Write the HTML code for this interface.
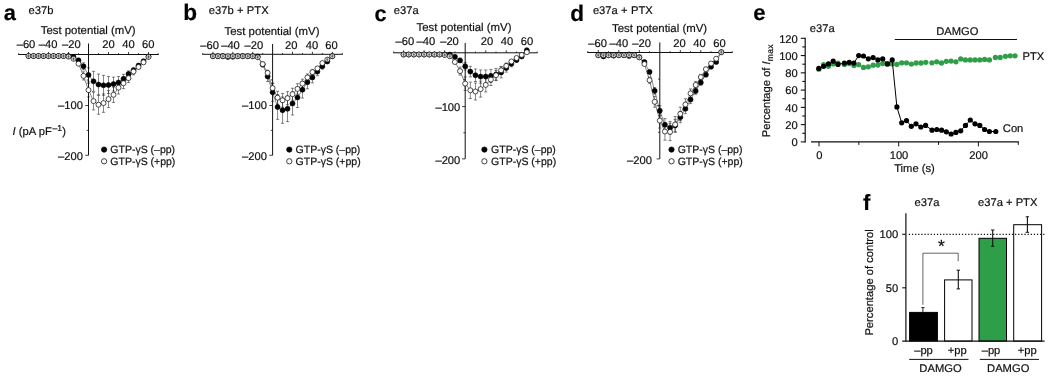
<!DOCTYPE html>
<html lang="en"><head><meta charset="utf-8"><title>Figure</title>
<style>html,body{margin:0;padding:0;background:#fff}body{width:1050px;height:376px;overflow:hidden}svg{display:block;font-family:"Liberation Sans",sans-serif;fill:#111}text{stroke:#111;stroke-width:.2px;text-rendering:geometricPrecision}</style></head><body>
<svg width="1050" height="376" viewBox="0 0 1050 376">
<rect x="0" y="0" width="1050" height="376" fill="#fff"/>
<g class="panel-a">
<text x="3.70" y="20.20" font-size="21.8" font-weight="bold" fill="#000">a</text>
<text x="28.60" y="14.30" font-size="11.2" word-spacing="0.2">e37b</text>
<text x="40.70" y="33.90" font-size="11.4">Test potential (mV)</text>
<text x="26.00" y="48.00" font-size="11.2" text-anchor="middle">–60</text>
<text x="48.20" y="48.00" font-size="11.2" text-anchor="middle">–40</text>
<text x="71.30" y="48.00" font-size="11.2" text-anchor="middle">–20</text>
<text x="108.50" y="48.00" font-size="11.2" text-anchor="middle">20</text>
<text x="128.60" y="48.00" font-size="11.2" text-anchor="middle">40</text>
<text x="148.30" y="48.00" font-size="11.2" text-anchor="middle">60</text>
<text x="82.90" y="108.90" font-size="11.2" text-anchor="end">–100</text>
<text x="82.90" y="160.20" font-size="11.2" text-anchor="end">–200</text>
<line x1="18.30" y1="54.50" x2="158.60" y2="54.50" stroke="#111" stroke-width="1.0"/>
<line x1="88.50" y1="43.50" x2="88.50" y2="155.30" stroke="#111" stroke-width="1.0"/>
<line x1="18.70" y1="53.20" x2="18.70" y2="54.50" stroke="#111" stroke-width="0.8"/>
<line x1="28.50" y1="52.00" x2="28.50" y2="54.50" stroke="#111" stroke-width="0.8"/>
<line x1="38.50" y1="53.20" x2="38.50" y2="54.50" stroke="#111" stroke-width="0.8"/>
<line x1="48.50" y1="52.00" x2="48.50" y2="54.50" stroke="#111" stroke-width="0.8"/>
<line x1="58.50" y1="53.20" x2="58.50" y2="54.50" stroke="#111" stroke-width="0.8"/>
<line x1="68.50" y1="52.00" x2="68.50" y2="54.50" stroke="#111" stroke-width="0.8"/>
<line x1="78.50" y1="53.20" x2="78.50" y2="54.50" stroke="#111" stroke-width="0.8"/>
<line x1="98.50" y1="53.20" x2="98.50" y2="54.50" stroke="#111" stroke-width="0.8"/>
<line x1="108.50" y1="52.00" x2="108.50" y2="54.50" stroke="#111" stroke-width="0.8"/>
<line x1="118.50" y1="53.20" x2="118.50" y2="54.50" stroke="#111" stroke-width="0.8"/>
<line x1="128.50" y1="52.00" x2="128.50" y2="54.50" stroke="#111" stroke-width="0.8"/>
<line x1="138.50" y1="53.20" x2="138.50" y2="54.50" stroke="#111" stroke-width="0.8"/>
<line x1="148.50" y1="52.00" x2="148.50" y2="54.50" stroke="#111" stroke-width="0.8"/>
<line x1="158.20" y1="53.20" x2="158.20" y2="54.50" stroke="#111" stroke-width="0.8"/>
<line x1="86.70" y1="80.00" x2="88.50" y2="80.00" stroke="#111" stroke-width="0.8"/>
<line x1="85.30" y1="105.50" x2="88.50" y2="105.50" stroke="#111" stroke-width="0.8"/>
<line x1="86.70" y1="130.40" x2="88.50" y2="130.40" stroke="#111" stroke-width="0.8"/>
<line x1="85.30" y1="155.30" x2="88.50" y2="155.30" stroke="#111" stroke-width="0.8"/>
<polyline fill="none" stroke="#111" stroke-width="0.5" points="28.5,56.0 33.5,56.0 38.5,56.0 43.5,56.0 48.5,56.0 53.5,56.0 58.5,56.0 63.5,56.0 68.5,56.0 73.5,57.0 78.5,60.3 83.5,66.3 88.5,74.9 93.5,81.3 98.5,84.5 103.5,85.3 108.5,85.0 113.5,84.1 118.5,82.5 123.5,78.8 128.5,73.9 133.5,70.2 138.5,65.6 143.5,61.2 148.5,56.5"/>
<line x1="28.50" y1="55.20" x2="28.50" y2="56.80" stroke="#111" stroke-width="0.5"/>
<line x1="26.90" y1="55.20" x2="30.10" y2="55.20" stroke="#111" stroke-width="0.5"/>
<line x1="26.90" y1="56.80" x2="30.10" y2="56.80" stroke="#111" stroke-width="0.5"/>
<line x1="33.50" y1="55.20" x2="33.50" y2="56.80" stroke="#111" stroke-width="0.5"/>
<line x1="31.90" y1="55.20" x2="35.10" y2="55.20" stroke="#111" stroke-width="0.5"/>
<line x1="31.90" y1="56.80" x2="35.10" y2="56.80" stroke="#111" stroke-width="0.5"/>
<line x1="38.50" y1="55.20" x2="38.50" y2="56.80" stroke="#111" stroke-width="0.5"/>
<line x1="36.90" y1="55.20" x2="40.10" y2="55.20" stroke="#111" stroke-width="0.5"/>
<line x1="36.90" y1="56.80" x2="40.10" y2="56.80" stroke="#111" stroke-width="0.5"/>
<line x1="43.50" y1="55.20" x2="43.50" y2="56.80" stroke="#111" stroke-width="0.5"/>
<line x1="41.90" y1="55.20" x2="45.10" y2="55.20" stroke="#111" stroke-width="0.5"/>
<line x1="41.90" y1="56.80" x2="45.10" y2="56.80" stroke="#111" stroke-width="0.5"/>
<line x1="48.50" y1="55.20" x2="48.50" y2="56.80" stroke="#111" stroke-width="0.5"/>
<line x1="46.90" y1="55.20" x2="50.10" y2="55.20" stroke="#111" stroke-width="0.5"/>
<line x1="46.90" y1="56.80" x2="50.10" y2="56.80" stroke="#111" stroke-width="0.5"/>
<line x1="53.50" y1="55.20" x2="53.50" y2="56.80" stroke="#111" stroke-width="0.5"/>
<line x1="51.90" y1="55.20" x2="55.10" y2="55.20" stroke="#111" stroke-width="0.5"/>
<line x1="51.90" y1="56.80" x2="55.10" y2="56.80" stroke="#111" stroke-width="0.5"/>
<line x1="58.50" y1="55.20" x2="58.50" y2="56.80" stroke="#111" stroke-width="0.5"/>
<line x1="56.90" y1="55.20" x2="60.10" y2="55.20" stroke="#111" stroke-width="0.5"/>
<line x1="56.90" y1="56.80" x2="60.10" y2="56.80" stroke="#111" stroke-width="0.5"/>
<line x1="63.50" y1="55.20" x2="63.50" y2="56.80" stroke="#111" stroke-width="0.5"/>
<line x1="61.90" y1="55.20" x2="65.10" y2="55.20" stroke="#111" stroke-width="0.5"/>
<line x1="61.90" y1="56.80" x2="65.10" y2="56.80" stroke="#111" stroke-width="0.5"/>
<line x1="68.50" y1="55.20" x2="68.50" y2="56.80" stroke="#111" stroke-width="0.5"/>
<line x1="66.90" y1="55.20" x2="70.10" y2="55.20" stroke="#111" stroke-width="0.5"/>
<line x1="66.90" y1="56.80" x2="70.10" y2="56.80" stroke="#111" stroke-width="0.5"/>
<line x1="73.50" y1="56.00" x2="73.50" y2="58.00" stroke="#111" stroke-width="0.5"/>
<line x1="71.90" y1="56.00" x2="75.10" y2="56.00" stroke="#111" stroke-width="0.5"/>
<line x1="71.90" y1="58.00" x2="75.10" y2="58.00" stroke="#111" stroke-width="0.5"/>
<line x1="78.50" y1="58.80" x2="78.50" y2="61.80" stroke="#111" stroke-width="0.5"/>
<line x1="76.90" y1="58.80" x2="80.10" y2="58.80" stroke="#111" stroke-width="0.5"/>
<line x1="76.90" y1="61.80" x2="80.10" y2="61.80" stroke="#111" stroke-width="0.5"/>
<line x1="83.50" y1="62.80" x2="83.50" y2="69.80" stroke="#111" stroke-width="0.5"/>
<line x1="81.90" y1="62.80" x2="85.10" y2="62.80" stroke="#111" stroke-width="0.5"/>
<line x1="81.90" y1="69.80" x2="85.10" y2="69.80" stroke="#111" stroke-width="0.5"/>
<line x1="88.50" y1="67.90" x2="88.50" y2="81.90" stroke="#111" stroke-width="0.5"/>
<line x1="86.90" y1="67.90" x2="90.10" y2="67.90" stroke="#111" stroke-width="0.5"/>
<line x1="86.90" y1="81.90" x2="90.10" y2="81.90" stroke="#111" stroke-width="0.5"/>
<line x1="93.50" y1="71.30" x2="93.50" y2="91.30" stroke="#111" stroke-width="0.5"/>
<line x1="91.90" y1="71.30" x2="95.10" y2="71.30" stroke="#111" stroke-width="0.5"/>
<line x1="91.90" y1="91.30" x2="95.10" y2="91.30" stroke="#111" stroke-width="0.5"/>
<line x1="98.50" y1="74.00" x2="98.50" y2="95.00" stroke="#111" stroke-width="0.5"/>
<line x1="96.90" y1="74.00" x2="100.10" y2="74.00" stroke="#111" stroke-width="0.5"/>
<line x1="96.90" y1="95.00" x2="100.10" y2="95.00" stroke="#111" stroke-width="0.5"/>
<line x1="103.50" y1="75.30" x2="103.50" y2="95.30" stroke="#111" stroke-width="0.5"/>
<line x1="101.90" y1="75.30" x2="105.10" y2="75.30" stroke="#111" stroke-width="0.5"/>
<line x1="101.90" y1="95.30" x2="105.10" y2="95.30" stroke="#111" stroke-width="0.5"/>
<line x1="108.50" y1="76.50" x2="108.50" y2="93.50" stroke="#111" stroke-width="0.5"/>
<line x1="106.90" y1="76.50" x2="110.10" y2="76.50" stroke="#111" stroke-width="0.5"/>
<line x1="106.90" y1="93.50" x2="110.10" y2="93.50" stroke="#111" stroke-width="0.5"/>
<line x1="113.50" y1="77.10" x2="113.50" y2="91.10" stroke="#111" stroke-width="0.5"/>
<line x1="111.90" y1="77.10" x2="115.10" y2="77.10" stroke="#111" stroke-width="0.5"/>
<line x1="111.90" y1="91.10" x2="115.10" y2="91.10" stroke="#111" stroke-width="0.5"/>
<line x1="118.50" y1="76.50" x2="118.50" y2="88.50" stroke="#111" stroke-width="0.5"/>
<line x1="116.90" y1="76.50" x2="120.10" y2="76.50" stroke="#111" stroke-width="0.5"/>
<line x1="116.90" y1="88.50" x2="120.10" y2="88.50" stroke="#111" stroke-width="0.5"/>
<line x1="123.50" y1="74.30" x2="123.50" y2="83.30" stroke="#111" stroke-width="0.5"/>
<line x1="121.90" y1="74.30" x2="125.10" y2="74.30" stroke="#111" stroke-width="0.5"/>
<line x1="121.90" y1="83.30" x2="125.10" y2="83.30" stroke="#111" stroke-width="0.5"/>
<line x1="128.50" y1="70.90" x2="128.50" y2="76.90" stroke="#111" stroke-width="0.5"/>
<line x1="126.90" y1="70.90" x2="130.10" y2="70.90" stroke="#111" stroke-width="0.5"/>
<line x1="126.90" y1="76.90" x2="130.10" y2="76.90" stroke="#111" stroke-width="0.5"/>
<line x1="133.50" y1="68.00" x2="133.50" y2="72.40" stroke="#111" stroke-width="0.5"/>
<line x1="131.90" y1="68.00" x2="135.10" y2="68.00" stroke="#111" stroke-width="0.5"/>
<line x1="131.90" y1="72.40" x2="135.10" y2="72.40" stroke="#111" stroke-width="0.5"/>
<line x1="138.50" y1="63.80" x2="138.50" y2="67.40" stroke="#111" stroke-width="0.5"/>
<line x1="136.90" y1="63.80" x2="140.10" y2="63.80" stroke="#111" stroke-width="0.5"/>
<line x1="136.90" y1="67.40" x2="140.10" y2="67.40" stroke="#111" stroke-width="0.5"/>
<line x1="143.50" y1="60.00" x2="143.50" y2="62.40" stroke="#111" stroke-width="0.5"/>
<line x1="141.90" y1="60.00" x2="145.10" y2="60.00" stroke="#111" stroke-width="0.5"/>
<line x1="141.90" y1="62.40" x2="145.10" y2="62.40" stroke="#111" stroke-width="0.5"/>
<line x1="148.50" y1="55.50" x2="148.50" y2="57.50" stroke="#111" stroke-width="0.5"/>
<line x1="146.90" y1="55.50" x2="150.10" y2="55.50" stroke="#111" stroke-width="0.5"/>
<line x1="146.90" y1="57.50" x2="150.10" y2="57.50" stroke="#111" stroke-width="0.5"/>
<circle cx="28.50" cy="56.00" r="2.5" fill="#000" stroke="#000" stroke-width="0.6"/>
<circle cx="33.50" cy="56.00" r="2.5" fill="#000" stroke="#000" stroke-width="0.6"/>
<circle cx="38.50" cy="56.00" r="2.5" fill="#000" stroke="#000" stroke-width="0.6"/>
<circle cx="43.50" cy="56.00" r="2.5" fill="#000" stroke="#000" stroke-width="0.6"/>
<circle cx="48.50" cy="56.00" r="2.5" fill="#000" stroke="#000" stroke-width="0.6"/>
<circle cx="53.50" cy="56.00" r="2.5" fill="#000" stroke="#000" stroke-width="0.6"/>
<circle cx="58.50" cy="56.00" r="2.5" fill="#000" stroke="#000" stroke-width="0.6"/>
<circle cx="63.50" cy="56.00" r="2.5" fill="#000" stroke="#000" stroke-width="0.6"/>
<circle cx="68.50" cy="56.00" r="2.5" fill="#000" stroke="#000" stroke-width="0.6"/>
<circle cx="73.50" cy="57.00" r="2.5" fill="#000" stroke="#000" stroke-width="0.6"/>
<circle cx="78.50" cy="60.30" r="2.5" fill="#000" stroke="#000" stroke-width="0.6"/>
<circle cx="83.50" cy="66.30" r="2.5" fill="#000" stroke="#000" stroke-width="0.6"/>
<circle cx="88.50" cy="74.90" r="2.5" fill="#000" stroke="#000" stroke-width="0.6"/>
<circle cx="93.50" cy="81.30" r="2.5" fill="#000" stroke="#000" stroke-width="0.6"/>
<circle cx="98.50" cy="84.50" r="2.5" fill="#000" stroke="#000" stroke-width="0.6"/>
<circle cx="103.50" cy="85.30" r="2.5" fill="#000" stroke="#000" stroke-width="0.6"/>
<circle cx="108.50" cy="85.00" r="2.5" fill="#000" stroke="#000" stroke-width="0.6"/>
<circle cx="113.50" cy="84.10" r="2.5" fill="#000" stroke="#000" stroke-width="0.6"/>
<circle cx="118.50" cy="82.50" r="2.5" fill="#000" stroke="#000" stroke-width="0.6"/>
<circle cx="123.50" cy="78.80" r="2.5" fill="#000" stroke="#000" stroke-width="0.6"/>
<circle cx="128.50" cy="73.90" r="2.5" fill="#000" stroke="#000" stroke-width="0.6"/>
<circle cx="133.50" cy="70.20" r="2.5" fill="#000" stroke="#000" stroke-width="0.6"/>
<circle cx="138.50" cy="65.60" r="2.5" fill="#000" stroke="#000" stroke-width="0.6"/>
<circle cx="143.50" cy="61.20" r="2.5" fill="#000" stroke="#000" stroke-width="0.6"/>
<circle cx="148.50" cy="56.50" r="2.5" fill="#000" stroke="#000" stroke-width="0.6"/>
<polyline fill="none" stroke="#111" stroke-width="0.5" points="28.5,56.0 33.5,56.0 38.5,56.0 43.5,56.0 48.5,56.0 53.5,56.0 58.5,56.0 63.5,56.0 68.5,56.6 73.5,58.8 78.5,63.7 83.5,75.9 88.5,90.1 93.5,101.1 98.5,104.7 103.5,103.1 108.5,99.1 113.5,94.8 118.5,87.7 123.5,83.2 128.5,78.1 133.5,71.6 138.5,67.0 143.5,62.3 148.5,56.9"/>
<line x1="83.50" y1="71.83" x2="83.50" y2="79.97" stroke="#111" stroke-width="0.5"/>
<line x1="81.90" y1="71.83" x2="85.10" y2="71.83" stroke="#111" stroke-width="0.5"/>
<line x1="81.90" y1="79.97" x2="85.10" y2="79.97" stroke="#111" stroke-width="0.5"/>
<line x1="88.50" y1="83.34" x2="88.50" y2="96.86" stroke="#111" stroke-width="0.5"/>
<line x1="86.90" y1="83.34" x2="90.10" y2="83.34" stroke="#111" stroke-width="0.5"/>
<line x1="86.90" y1="96.86" x2="90.10" y2="96.86" stroke="#111" stroke-width="0.5"/>
<line x1="93.50" y1="92.25" x2="93.50" y2="109.95" stroke="#111" stroke-width="0.5"/>
<line x1="91.90" y1="92.25" x2="95.10" y2="92.25" stroke="#111" stroke-width="0.5"/>
<line x1="91.90" y1="109.95" x2="95.10" y2="109.95" stroke="#111" stroke-width="0.5"/>
<line x1="98.50" y1="95.16" x2="98.50" y2="114.24" stroke="#111" stroke-width="0.5"/>
<line x1="96.90" y1="95.16" x2="100.10" y2="95.16" stroke="#111" stroke-width="0.5"/>
<line x1="96.90" y1="114.24" x2="100.10" y2="114.24" stroke="#111" stroke-width="0.5"/>
<line x1="103.50" y1="93.87" x2="103.50" y2="112.33" stroke="#111" stroke-width="0.5"/>
<line x1="101.90" y1="93.87" x2="105.10" y2="93.87" stroke="#111" stroke-width="0.5"/>
<line x1="101.90" y1="112.33" x2="105.10" y2="112.33" stroke="#111" stroke-width="0.5"/>
<line x1="108.50" y1="90.63" x2="108.50" y2="107.57" stroke="#111" stroke-width="0.5"/>
<line x1="106.90" y1="90.63" x2="110.10" y2="90.63" stroke="#111" stroke-width="0.5"/>
<line x1="106.90" y1="107.57" x2="110.10" y2="107.57" stroke="#111" stroke-width="0.5"/>
<line x1="113.50" y1="87.14" x2="113.50" y2="102.46" stroke="#111" stroke-width="0.5"/>
<line x1="111.90" y1="87.14" x2="115.10" y2="87.14" stroke="#111" stroke-width="0.5"/>
<line x1="111.90" y1="102.46" x2="115.10" y2="102.46" stroke="#111" stroke-width="0.5"/>
<line x1="118.50" y1="81.39" x2="118.50" y2="94.01" stroke="#111" stroke-width="0.5"/>
<line x1="116.90" y1="81.39" x2="120.10" y2="81.39" stroke="#111" stroke-width="0.5"/>
<line x1="116.90" y1="94.01" x2="120.10" y2="94.01" stroke="#111" stroke-width="0.5"/>
<line x1="123.50" y1="77.75" x2="123.50" y2="88.65" stroke="#111" stroke-width="0.5"/>
<line x1="121.90" y1="77.75" x2="125.10" y2="77.75" stroke="#111" stroke-width="0.5"/>
<line x1="121.90" y1="88.65" x2="125.10" y2="88.65" stroke="#111" stroke-width="0.5"/>
<line x1="128.50" y1="73.62" x2="128.50" y2="82.58" stroke="#111" stroke-width="0.5"/>
<line x1="126.90" y1="73.62" x2="130.10" y2="73.62" stroke="#111" stroke-width="0.5"/>
<line x1="126.90" y1="82.58" x2="130.10" y2="82.58" stroke="#111" stroke-width="0.5"/>
<line x1="133.50" y1="68.35" x2="133.50" y2="74.85" stroke="#111" stroke-width="0.5"/>
<line x1="131.90" y1="68.35" x2="135.10" y2="68.35" stroke="#111" stroke-width="0.5"/>
<line x1="131.90" y1="74.85" x2="135.10" y2="74.85" stroke="#111" stroke-width="0.5"/>
<circle cx="28.50" cy="56.00" r="2.5" fill="#fff" stroke="#111" stroke-width="0.75"/>
<circle cx="33.50" cy="56.00" r="2.5" fill="#fff" stroke="#111" stroke-width="0.75"/>
<circle cx="38.50" cy="56.00" r="2.5" fill="#fff" stroke="#111" stroke-width="0.75"/>
<circle cx="43.50" cy="56.00" r="2.5" fill="#fff" stroke="#111" stroke-width="0.75"/>
<circle cx="48.50" cy="56.00" r="2.5" fill="#fff" stroke="#111" stroke-width="0.75"/>
<circle cx="53.50" cy="56.00" r="2.5" fill="#fff" stroke="#111" stroke-width="0.75"/>
<circle cx="58.50" cy="56.00" r="2.5" fill="#fff" stroke="#111" stroke-width="0.75"/>
<circle cx="63.50" cy="56.00" r="2.5" fill="#fff" stroke="#111" stroke-width="0.75"/>
<circle cx="68.50" cy="56.60" r="2.5" fill="#fff" stroke="#111" stroke-width="0.75"/>
<circle cx="73.50" cy="58.80" r="2.5" fill="#fff" stroke="#111" stroke-width="0.75"/>
<circle cx="78.50" cy="63.70" r="2.5" fill="#fff" stroke="#111" stroke-width="0.75"/>
<circle cx="83.50" cy="75.90" r="2.5" fill="#fff" stroke="#111" stroke-width="0.75"/>
<circle cx="88.50" cy="90.10" r="2.5" fill="#fff" stroke="#111" stroke-width="0.75"/>
<circle cx="93.50" cy="101.10" r="2.5" fill="#fff" stroke="#111" stroke-width="0.75"/>
<circle cx="98.50" cy="104.70" r="2.5" fill="#fff" stroke="#111" stroke-width="0.75"/>
<circle cx="103.50" cy="103.10" r="2.5" fill="#fff" stroke="#111" stroke-width="0.75"/>
<circle cx="108.50" cy="99.10" r="2.5" fill="#fff" stroke="#111" stroke-width="0.75"/>
<circle cx="113.50" cy="94.80" r="2.5" fill="#fff" stroke="#111" stroke-width="0.75"/>
<circle cx="118.50" cy="87.70" r="2.5" fill="#fff" stroke="#111" stroke-width="0.75"/>
<circle cx="123.50" cy="83.20" r="2.5" fill="#fff" stroke="#111" stroke-width="0.75"/>
<circle cx="128.50" cy="78.10" r="2.5" fill="#fff" stroke="#111" stroke-width="0.75"/>
<circle cx="133.50" cy="71.60" r="2.5" fill="#fff" stroke="#111" stroke-width="0.75"/>
<circle cx="138.50" cy="67.00" r="2.5" fill="#fff" stroke="#111" stroke-width="0.75"/>
<circle cx="143.50" cy="62.30" r="2.5" fill="#fff" stroke="#111" stroke-width="0.75"/>
<circle cx="148.50" cy="56.90" r="2.5" fill="#fff" stroke="#111" stroke-width="0.75"/>
<line x1="28.50" y1="53.70" x2="28.50" y2="58.30" stroke="#111" stroke-width="0.45"/>
<line x1="27.20" y1="55.55" x2="29.80" y2="55.55" stroke="#111" stroke-width="0.45"/>
<line x1="27.20" y1="56.45" x2="29.80" y2="56.45" stroke="#111" stroke-width="0.45"/>
<line x1="33.50" y1="53.70" x2="33.50" y2="58.30" stroke="#111" stroke-width="0.45"/>
<line x1="32.20" y1="55.55" x2="34.80" y2="55.55" stroke="#111" stroke-width="0.45"/>
<line x1="32.20" y1="56.45" x2="34.80" y2="56.45" stroke="#111" stroke-width="0.45"/>
<line x1="38.50" y1="53.70" x2="38.50" y2="58.30" stroke="#111" stroke-width="0.45"/>
<line x1="37.20" y1="55.55" x2="39.80" y2="55.55" stroke="#111" stroke-width="0.45"/>
<line x1="37.20" y1="56.45" x2="39.80" y2="56.45" stroke="#111" stroke-width="0.45"/>
<line x1="43.50" y1="53.70" x2="43.50" y2="58.30" stroke="#111" stroke-width="0.45"/>
<line x1="42.20" y1="55.55" x2="44.80" y2="55.55" stroke="#111" stroke-width="0.45"/>
<line x1="42.20" y1="56.45" x2="44.80" y2="56.45" stroke="#111" stroke-width="0.45"/>
<line x1="48.50" y1="53.70" x2="48.50" y2="58.30" stroke="#111" stroke-width="0.45"/>
<line x1="47.20" y1="55.55" x2="49.80" y2="55.55" stroke="#111" stroke-width="0.45"/>
<line x1="47.20" y1="56.45" x2="49.80" y2="56.45" stroke="#111" stroke-width="0.45"/>
<line x1="53.50" y1="53.70" x2="53.50" y2="58.30" stroke="#111" stroke-width="0.45"/>
<line x1="52.20" y1="55.55" x2="54.80" y2="55.55" stroke="#111" stroke-width="0.45"/>
<line x1="52.20" y1="56.45" x2="54.80" y2="56.45" stroke="#111" stroke-width="0.45"/>
<line x1="58.50" y1="53.70" x2="58.50" y2="58.30" stroke="#111" stroke-width="0.45"/>
<line x1="57.20" y1="55.55" x2="59.80" y2="55.55" stroke="#111" stroke-width="0.45"/>
<line x1="57.20" y1="56.45" x2="59.80" y2="56.45" stroke="#111" stroke-width="0.45"/>
<line x1="63.50" y1="53.70" x2="63.50" y2="58.30" stroke="#111" stroke-width="0.45"/>
<line x1="62.20" y1="55.55" x2="64.80" y2="55.55" stroke="#111" stroke-width="0.45"/>
<line x1="62.20" y1="56.45" x2="64.80" y2="56.45" stroke="#111" stroke-width="0.45"/>
<line x1="68.50" y1="54.30" x2="68.50" y2="58.90" stroke="#111" stroke-width="0.45"/>
<line x1="67.20" y1="56.15" x2="69.80" y2="56.15" stroke="#111" stroke-width="0.45"/>
<line x1="67.20" y1="57.05" x2="69.80" y2="57.05" stroke="#111" stroke-width="0.45"/>
<line x1="73.50" y1="56.50" x2="73.50" y2="61.10" stroke="#111" stroke-width="0.45"/>
<line x1="72.20" y1="58.35" x2="74.80" y2="58.35" stroke="#111" stroke-width="0.45"/>
<line x1="72.20" y1="59.25" x2="74.80" y2="59.25" stroke="#111" stroke-width="0.45"/>
<line x1="148.50" y1="54.60" x2="148.50" y2="59.20" stroke="#111" stroke-width="0.45"/>
<line x1="147.20" y1="56.45" x2="149.80" y2="56.45" stroke="#111" stroke-width="0.45"/>
<line x1="147.20" y1="57.35" x2="149.80" y2="57.35" stroke="#111" stroke-width="0.45"/>
<circle cx="104.10" cy="149.60" r="2.7" fill="#000" stroke="#000" stroke-width="0.6"/>
<circle cx="104.10" cy="161.30" r="2.65" fill="#fff" stroke="#111" stroke-width="0.8"/>
<text x="110.30" y="152.90" font-size="10.5">GTP-γS (–pp)</text>
<text x="110.30" y="164.70" font-size="10.5">GTP-γS (+pp)</text>
<text x="12.6" y="135" font-size="11.2"><tspan font-style="italic">I</tspan> (pA pF<tspan dy="-3.8" dx="0.6" font-size="8.6">–1</tspan><tspan dy="3.8" dx="0.4">)</tspan></text>
</g>
<g class="panel-b">
<text x="183.30" y="20.20" font-size="22.6" font-weight="bold" fill="#000">b</text>
<text x="208.80" y="14.30" font-size="11.2" word-spacing="0.2">e37b + PTX</text>
<text x="224.50" y="34.80" font-size="11.4">Test potential (mV)</text>
<text x="209.60" y="49.30" font-size="11.2" text-anchor="middle">–60</text>
<text x="230.50" y="49.30" font-size="11.2" text-anchor="middle">–40</text>
<text x="253.90" y="49.30" font-size="11.2" text-anchor="middle">–20</text>
<text x="291.30" y="49.30" font-size="11.2" text-anchor="middle">20</text>
<text x="312.00" y="49.30" font-size="11.2" text-anchor="middle">40</text>
<text x="331.60" y="49.30" font-size="11.2" text-anchor="middle">60</text>
<text x="267.00" y="109.00" font-size="11.2" text-anchor="end">–100</text>
<text x="267.00" y="160.20" font-size="11.2" text-anchor="end">–200</text>
<line x1="202.30" y1="54.30" x2="342.70" y2="54.30" stroke="#111" stroke-width="1.0"/>
<line x1="272.60" y1="44.00" x2="272.60" y2="155.30" stroke="#111" stroke-width="1.0"/>
<line x1="202.70" y1="53.00" x2="202.70" y2="54.30" stroke="#111" stroke-width="0.8"/>
<line x1="212.90" y1="51.80" x2="212.90" y2="54.30" stroke="#111" stroke-width="0.8"/>
<line x1="222.85" y1="53.00" x2="222.85" y2="54.30" stroke="#111" stroke-width="0.8"/>
<line x1="232.80" y1="51.80" x2="232.80" y2="54.30" stroke="#111" stroke-width="0.8"/>
<line x1="242.75" y1="53.00" x2="242.75" y2="54.30" stroke="#111" stroke-width="0.8"/>
<line x1="252.70" y1="51.80" x2="252.70" y2="54.30" stroke="#111" stroke-width="0.8"/>
<line x1="262.65" y1="53.00" x2="262.65" y2="54.30" stroke="#111" stroke-width="0.8"/>
<line x1="282.55" y1="53.00" x2="282.55" y2="54.30" stroke="#111" stroke-width="0.8"/>
<line x1="292.50" y1="51.80" x2="292.50" y2="54.30" stroke="#111" stroke-width="0.8"/>
<line x1="302.45" y1="53.00" x2="302.45" y2="54.30" stroke="#111" stroke-width="0.8"/>
<line x1="312.40" y1="51.80" x2="312.40" y2="54.30" stroke="#111" stroke-width="0.8"/>
<line x1="322.35" y1="53.00" x2="322.35" y2="54.30" stroke="#111" stroke-width="0.8"/>
<line x1="332.30" y1="51.80" x2="332.30" y2="54.30" stroke="#111" stroke-width="0.8"/>
<line x1="342.30" y1="53.00" x2="342.30" y2="54.30" stroke="#111" stroke-width="0.8"/>
<line x1="270.80" y1="79.90" x2="272.60" y2="79.90" stroke="#111" stroke-width="0.8"/>
<line x1="269.40" y1="105.50" x2="272.60" y2="105.50" stroke="#111" stroke-width="0.8"/>
<line x1="270.80" y1="130.40" x2="272.60" y2="130.40" stroke="#111" stroke-width="0.8"/>
<line x1="269.40" y1="155.30" x2="272.60" y2="155.30" stroke="#111" stroke-width="0.8"/>
<polyline fill="none" stroke="#111" stroke-width="0.5" points="212.9,56.2 217.9,56.2 222.9,56.2 227.8,56.9 232.8,56.8 237.8,56.2 242.8,56.2 247.7,56.2 252.7,56.2 257.7,56.4 262.7,64.5 267.6,76.4 272.6,92.3 277.6,107.0 282.6,110.2 287.5,108.8 292.5,103.5 297.5,97.4 302.5,89.7 307.4,82.2 312.4,77.4 317.4,71.6 322.4,66.3 327.3,61.5 332.3,56.2"/>
<line x1="212.90" y1="55.40" x2="212.90" y2="57.00" stroke="#111" stroke-width="0.5"/>
<line x1="211.30" y1="55.40" x2="214.50" y2="55.40" stroke="#111" stroke-width="0.5"/>
<line x1="211.30" y1="57.00" x2="214.50" y2="57.00" stroke="#111" stroke-width="0.5"/>
<line x1="217.88" y1="55.40" x2="217.88" y2="57.00" stroke="#111" stroke-width="0.5"/>
<line x1="216.28" y1="55.40" x2="219.48" y2="55.40" stroke="#111" stroke-width="0.5"/>
<line x1="216.28" y1="57.00" x2="219.48" y2="57.00" stroke="#111" stroke-width="0.5"/>
<line x1="222.85" y1="55.40" x2="222.85" y2="57.00" stroke="#111" stroke-width="0.5"/>
<line x1="221.25" y1="55.40" x2="224.45" y2="55.40" stroke="#111" stroke-width="0.5"/>
<line x1="221.25" y1="57.00" x2="224.45" y2="57.00" stroke="#111" stroke-width="0.5"/>
<line x1="227.83" y1="56.10" x2="227.83" y2="57.70" stroke="#111" stroke-width="0.5"/>
<line x1="226.23" y1="56.10" x2="229.43" y2="56.10" stroke="#111" stroke-width="0.5"/>
<line x1="226.23" y1="57.70" x2="229.43" y2="57.70" stroke="#111" stroke-width="0.5"/>
<line x1="232.80" y1="56.00" x2="232.80" y2="57.60" stroke="#111" stroke-width="0.5"/>
<line x1="231.20" y1="56.00" x2="234.40" y2="56.00" stroke="#111" stroke-width="0.5"/>
<line x1="231.20" y1="57.60" x2="234.40" y2="57.60" stroke="#111" stroke-width="0.5"/>
<line x1="237.78" y1="55.40" x2="237.78" y2="57.00" stroke="#111" stroke-width="0.5"/>
<line x1="236.18" y1="55.40" x2="239.38" y2="55.40" stroke="#111" stroke-width="0.5"/>
<line x1="236.18" y1="57.00" x2="239.38" y2="57.00" stroke="#111" stroke-width="0.5"/>
<line x1="242.75" y1="55.40" x2="242.75" y2="57.00" stroke="#111" stroke-width="0.5"/>
<line x1="241.15" y1="55.40" x2="244.35" y2="55.40" stroke="#111" stroke-width="0.5"/>
<line x1="241.15" y1="57.00" x2="244.35" y2="57.00" stroke="#111" stroke-width="0.5"/>
<line x1="247.73" y1="55.40" x2="247.73" y2="57.00" stroke="#111" stroke-width="0.5"/>
<line x1="246.13" y1="55.40" x2="249.33" y2="55.40" stroke="#111" stroke-width="0.5"/>
<line x1="246.13" y1="57.00" x2="249.33" y2="57.00" stroke="#111" stroke-width="0.5"/>
<line x1="252.70" y1="55.40" x2="252.70" y2="57.00" stroke="#111" stroke-width="0.5"/>
<line x1="251.10" y1="55.40" x2="254.30" y2="55.40" stroke="#111" stroke-width="0.5"/>
<line x1="251.10" y1="57.00" x2="254.30" y2="57.00" stroke="#111" stroke-width="0.5"/>
<line x1="257.68" y1="55.60" x2="257.68" y2="57.20" stroke="#111" stroke-width="0.5"/>
<line x1="256.07" y1="55.60" x2="259.28" y2="55.60" stroke="#111" stroke-width="0.5"/>
<line x1="256.07" y1="57.20" x2="259.28" y2="57.20" stroke="#111" stroke-width="0.5"/>
<line x1="262.65" y1="62.10" x2="262.65" y2="66.90" stroke="#111" stroke-width="0.5"/>
<line x1="261.05" y1="62.10" x2="264.25" y2="62.10" stroke="#111" stroke-width="0.5"/>
<line x1="261.05" y1="66.90" x2="264.25" y2="66.90" stroke="#111" stroke-width="0.5"/>
<line x1="267.62" y1="71.21" x2="267.62" y2="81.59" stroke="#111" stroke-width="0.5"/>
<line x1="266.02" y1="71.21" x2="269.23" y2="71.21" stroke="#111" stroke-width="0.5"/>
<line x1="266.02" y1="81.59" x2="269.23" y2="81.59" stroke="#111" stroke-width="0.5"/>
<line x1="272.60" y1="83.37" x2="272.60" y2="101.23" stroke="#111" stroke-width="0.5"/>
<line x1="271.00" y1="83.37" x2="274.20" y2="83.37" stroke="#111" stroke-width="0.5"/>
<line x1="271.00" y1="101.23" x2="274.20" y2="101.23" stroke="#111" stroke-width="0.5"/>
<line x1="277.58" y1="94.62" x2="277.58" y2="119.38" stroke="#111" stroke-width="0.5"/>
<line x1="275.98" y1="94.62" x2="279.18" y2="94.62" stroke="#111" stroke-width="0.5"/>
<line x1="275.98" y1="119.38" x2="279.18" y2="119.38" stroke="#111" stroke-width="0.5"/>
<line x1="282.55" y1="97.06" x2="282.55" y2="123.34" stroke="#111" stroke-width="0.5"/>
<line x1="280.95" y1="97.06" x2="284.15" y2="97.06" stroke="#111" stroke-width="0.5"/>
<line x1="280.95" y1="123.34" x2="284.15" y2="123.34" stroke="#111" stroke-width="0.5"/>
<line x1="287.53" y1="95.99" x2="287.53" y2="121.61" stroke="#111" stroke-width="0.5"/>
<line x1="285.93" y1="95.99" x2="289.13" y2="95.99" stroke="#111" stroke-width="0.5"/>
<line x1="285.93" y1="121.61" x2="289.13" y2="121.61" stroke="#111" stroke-width="0.5"/>
<line x1="292.50" y1="91.94" x2="292.50" y2="115.06" stroke="#111" stroke-width="0.5"/>
<line x1="290.90" y1="91.94" x2="294.10" y2="91.94" stroke="#111" stroke-width="0.5"/>
<line x1="290.90" y1="115.06" x2="294.10" y2="115.06" stroke="#111" stroke-width="0.5"/>
<line x1="297.48" y1="87.27" x2="297.48" y2="107.53" stroke="#111" stroke-width="0.5"/>
<line x1="295.88" y1="87.27" x2="299.08" y2="87.27" stroke="#111" stroke-width="0.5"/>
<line x1="295.88" y1="107.53" x2="299.08" y2="107.53" stroke="#111" stroke-width="0.5"/>
<line x1="302.45" y1="81.38" x2="302.45" y2="98.02" stroke="#111" stroke-width="0.5"/>
<line x1="300.85" y1="81.38" x2="304.05" y2="81.38" stroke="#111" stroke-width="0.5"/>
<line x1="300.85" y1="98.02" x2="304.05" y2="98.02" stroke="#111" stroke-width="0.5"/>
<line x1="307.43" y1="75.64" x2="307.43" y2="88.76" stroke="#111" stroke-width="0.5"/>
<line x1="305.82" y1="75.64" x2="309.03" y2="75.64" stroke="#111" stroke-width="0.5"/>
<line x1="305.82" y1="88.76" x2="309.03" y2="88.76" stroke="#111" stroke-width="0.5"/>
<line x1="312.40" y1="71.97" x2="312.40" y2="82.83" stroke="#111" stroke-width="0.5"/>
<line x1="310.80" y1="71.97" x2="314.00" y2="71.97" stroke="#111" stroke-width="0.5"/>
<line x1="310.80" y1="82.83" x2="314.00" y2="82.83" stroke="#111" stroke-width="0.5"/>
<line x1="317.38" y1="67.53" x2="317.38" y2="75.67" stroke="#111" stroke-width="0.5"/>
<line x1="315.77" y1="67.53" x2="318.98" y2="67.53" stroke="#111" stroke-width="0.5"/>
<line x1="315.77" y1="75.67" x2="318.98" y2="75.67" stroke="#111" stroke-width="0.5"/>
<line x1="322.35" y1="63.48" x2="322.35" y2="69.12" stroke="#111" stroke-width="0.5"/>
<line x1="320.75" y1="63.48" x2="323.95" y2="63.48" stroke="#111" stroke-width="0.5"/>
<line x1="320.75" y1="69.12" x2="323.95" y2="69.12" stroke="#111" stroke-width="0.5"/>
<line x1="327.33" y1="59.81" x2="327.33" y2="63.19" stroke="#111" stroke-width="0.5"/>
<line x1="325.73" y1="59.81" x2="328.93" y2="59.81" stroke="#111" stroke-width="0.5"/>
<line x1="325.73" y1="63.19" x2="328.93" y2="63.19" stroke="#111" stroke-width="0.5"/>
<line x1="332.30" y1="55.40" x2="332.30" y2="57.00" stroke="#111" stroke-width="0.5"/>
<line x1="330.70" y1="55.40" x2="333.90" y2="55.40" stroke="#111" stroke-width="0.5"/>
<line x1="330.70" y1="57.00" x2="333.90" y2="57.00" stroke="#111" stroke-width="0.5"/>
<circle cx="212.90" cy="56.20" r="2.5" fill="#000" stroke="#000" stroke-width="0.6"/>
<circle cx="217.88" cy="56.20" r="2.5" fill="#000" stroke="#000" stroke-width="0.6"/>
<circle cx="222.85" cy="56.20" r="2.5" fill="#000" stroke="#000" stroke-width="0.6"/>
<circle cx="227.83" cy="56.90" r="2.5" fill="#000" stroke="#000" stroke-width="0.6"/>
<circle cx="232.80" cy="56.80" r="2.5" fill="#000" stroke="#000" stroke-width="0.6"/>
<circle cx="237.78" cy="56.20" r="2.5" fill="#000" stroke="#000" stroke-width="0.6"/>
<circle cx="242.75" cy="56.20" r="2.5" fill="#000" stroke="#000" stroke-width="0.6"/>
<circle cx="247.73" cy="56.20" r="2.5" fill="#000" stroke="#000" stroke-width="0.6"/>
<circle cx="252.70" cy="56.20" r="2.5" fill="#000" stroke="#000" stroke-width="0.6"/>
<circle cx="257.68" cy="56.40" r="2.5" fill="#000" stroke="#000" stroke-width="0.6"/>
<circle cx="262.65" cy="64.50" r="2.5" fill="#000" stroke="#000" stroke-width="0.6"/>
<circle cx="267.62" cy="76.40" r="2.5" fill="#000" stroke="#000" stroke-width="0.6"/>
<circle cx="272.60" cy="92.30" r="2.5" fill="#000" stroke="#000" stroke-width="0.6"/>
<circle cx="277.58" cy="107.00" r="2.5" fill="#000" stroke="#000" stroke-width="0.6"/>
<circle cx="282.55" cy="110.20" r="2.5" fill="#000" stroke="#000" stroke-width="0.6"/>
<circle cx="287.53" cy="108.80" r="2.5" fill="#000" stroke="#000" stroke-width="0.6"/>
<circle cx="292.50" cy="103.50" r="2.5" fill="#000" stroke="#000" stroke-width="0.6"/>
<circle cx="297.48" cy="97.40" r="2.5" fill="#000" stroke="#000" stroke-width="0.6"/>
<circle cx="302.45" cy="89.70" r="2.5" fill="#000" stroke="#000" stroke-width="0.6"/>
<circle cx="307.43" cy="82.20" r="2.5" fill="#000" stroke="#000" stroke-width="0.6"/>
<circle cx="312.40" cy="77.40" r="2.5" fill="#000" stroke="#000" stroke-width="0.6"/>
<circle cx="317.38" cy="71.60" r="2.5" fill="#000" stroke="#000" stroke-width="0.6"/>
<circle cx="322.35" cy="66.30" r="2.5" fill="#000" stroke="#000" stroke-width="0.6"/>
<circle cx="327.33" cy="61.50" r="2.5" fill="#000" stroke="#000" stroke-width="0.6"/>
<circle cx="332.30" cy="56.20" r="2.5" fill="#000" stroke="#000" stroke-width="0.6"/>
<polyline fill="none" stroke="#111" stroke-width="0.5" points="212.9,56.2 217.9,56.2 222.9,56.2 227.8,56.2 232.8,56.2 237.8,56.2 242.8,56.2 247.7,56.2 252.7,56.2 257.7,57.2 262.7,64.1 267.6,72.9 272.6,88.1 277.6,97.7 282.6,100.3 287.5,98.2 292.5,94.2 297.5,88.9 302.5,83.6 307.4,77.4 312.4,72.1 317.4,68.4 322.4,63.1 327.3,59.6 332.3,56.2"/>
<line x1="267.62" y1="70.11" x2="267.62" y2="75.69" stroke="#111" stroke-width="0.5"/>
<line x1="266.02" y1="70.11" x2="269.23" y2="70.11" stroke="#111" stroke-width="0.5"/>
<line x1="266.02" y1="75.69" x2="269.23" y2="75.69" stroke="#111" stroke-width="0.5"/>
<line x1="272.60" y1="83.03" x2="272.60" y2="93.17" stroke="#111" stroke-width="0.5"/>
<line x1="271.00" y1="83.03" x2="274.20" y2="83.03" stroke="#111" stroke-width="0.5"/>
<line x1="271.00" y1="93.17" x2="274.20" y2="93.17" stroke="#111" stroke-width="0.5"/>
<line x1="277.58" y1="91.19" x2="277.58" y2="104.21" stroke="#111" stroke-width="0.5"/>
<line x1="275.98" y1="91.19" x2="279.18" y2="91.19" stroke="#111" stroke-width="0.5"/>
<line x1="275.98" y1="104.21" x2="279.18" y2="104.21" stroke="#111" stroke-width="0.5"/>
<line x1="282.55" y1="93.40" x2="282.55" y2="107.20" stroke="#111" stroke-width="0.5"/>
<line x1="280.95" y1="93.40" x2="284.15" y2="93.40" stroke="#111" stroke-width="0.5"/>
<line x1="280.95" y1="107.20" x2="284.15" y2="107.20" stroke="#111" stroke-width="0.5"/>
<line x1="287.53" y1="91.62" x2="287.53" y2="104.78" stroke="#111" stroke-width="0.5"/>
<line x1="285.93" y1="91.62" x2="289.13" y2="91.62" stroke="#111" stroke-width="0.5"/>
<line x1="285.93" y1="104.78" x2="289.13" y2="104.78" stroke="#111" stroke-width="0.5"/>
<line x1="292.50" y1="88.22" x2="292.50" y2="100.19" stroke="#111" stroke-width="0.5"/>
<line x1="290.90" y1="88.22" x2="294.10" y2="88.22" stroke="#111" stroke-width="0.5"/>
<line x1="290.90" y1="100.19" x2="294.10" y2="100.19" stroke="#111" stroke-width="0.5"/>
<line x1="297.48" y1="83.71" x2="297.48" y2="94.09" stroke="#111" stroke-width="0.5"/>
<line x1="295.88" y1="83.71" x2="299.08" y2="83.71" stroke="#111" stroke-width="0.5"/>
<line x1="295.88" y1="94.09" x2="299.08" y2="94.09" stroke="#111" stroke-width="0.5"/>
<line x1="302.45" y1="79.20" x2="302.45" y2="87.99" stroke="#111" stroke-width="0.5"/>
<line x1="300.85" y1="79.20" x2="304.05" y2="79.20" stroke="#111" stroke-width="0.5"/>
<line x1="300.85" y1="87.99" x2="304.05" y2="87.99" stroke="#111" stroke-width="0.5"/>
<line x1="307.43" y1="73.94" x2="307.43" y2="80.87" stroke="#111" stroke-width="0.5"/>
<line x1="305.82" y1="73.94" x2="309.03" y2="73.94" stroke="#111" stroke-width="0.5"/>
<line x1="305.82" y1="80.87" x2="309.03" y2="80.87" stroke="#111" stroke-width="0.5"/>
<line x1="312.40" y1="69.43" x2="312.40" y2="74.77" stroke="#111" stroke-width="0.5"/>
<line x1="310.80" y1="69.43" x2="314.00" y2="69.43" stroke="#111" stroke-width="0.5"/>
<line x1="310.80" y1="74.77" x2="314.00" y2="74.77" stroke="#111" stroke-width="0.5"/>
<circle cx="212.90" cy="56.20" r="2.5" fill="#fff" stroke="#111" stroke-width="0.75"/>
<circle cx="217.88" cy="56.20" r="2.5" fill="#fff" stroke="#111" stroke-width="0.75"/>
<circle cx="222.85" cy="56.20" r="2.5" fill="#fff" stroke="#111" stroke-width="0.75"/>
<circle cx="227.83" cy="56.20" r="2.5" fill="#fff" stroke="#111" stroke-width="0.75"/>
<circle cx="232.80" cy="56.20" r="2.5" fill="#fff" stroke="#111" stroke-width="0.75"/>
<circle cx="237.78" cy="56.20" r="2.5" fill="#fff" stroke="#111" stroke-width="0.75"/>
<circle cx="242.75" cy="56.20" r="2.5" fill="#fff" stroke="#111" stroke-width="0.75"/>
<circle cx="247.73" cy="56.20" r="2.5" fill="#fff" stroke="#111" stroke-width="0.75"/>
<circle cx="252.70" cy="56.20" r="2.5" fill="#fff" stroke="#111" stroke-width="0.75"/>
<circle cx="257.68" cy="57.20" r="2.5" fill="#fff" stroke="#111" stroke-width="0.75"/>
<circle cx="262.65" cy="64.10" r="2.5" fill="#fff" stroke="#111" stroke-width="0.75"/>
<circle cx="267.62" cy="72.90" r="2.5" fill="#fff" stroke="#111" stroke-width="0.75"/>
<circle cx="272.60" cy="88.10" r="2.5" fill="#fff" stroke="#111" stroke-width="0.75"/>
<circle cx="277.58" cy="97.70" r="2.5" fill="#fff" stroke="#111" stroke-width="0.75"/>
<circle cx="282.55" cy="100.30" r="2.5" fill="#fff" stroke="#111" stroke-width="0.75"/>
<circle cx="287.53" cy="98.20" r="2.5" fill="#fff" stroke="#111" stroke-width="0.75"/>
<circle cx="292.50" cy="94.20" r="2.5" fill="#fff" stroke="#111" stroke-width="0.75"/>
<circle cx="297.48" cy="88.90" r="2.5" fill="#fff" stroke="#111" stroke-width="0.75"/>
<circle cx="302.45" cy="83.60" r="2.5" fill="#fff" stroke="#111" stroke-width="0.75"/>
<circle cx="307.43" cy="77.40" r="2.5" fill="#fff" stroke="#111" stroke-width="0.75"/>
<circle cx="312.40" cy="72.10" r="2.5" fill="#fff" stroke="#111" stroke-width="0.75"/>
<circle cx="317.38" cy="68.40" r="2.5" fill="#fff" stroke="#111" stroke-width="0.75"/>
<circle cx="322.35" cy="63.10" r="2.5" fill="#fff" stroke="#111" stroke-width="0.75"/>
<circle cx="327.33" cy="59.60" r="2.5" fill="#fff" stroke="#111" stroke-width="0.75"/>
<circle cx="332.30" cy="56.20" r="2.5" fill="#fff" stroke="#111" stroke-width="0.75"/>
<line x1="212.90" y1="53.90" x2="212.90" y2="58.50" stroke="#111" stroke-width="0.45"/>
<line x1="211.60" y1="55.75" x2="214.20" y2="55.75" stroke="#111" stroke-width="0.45"/>
<line x1="211.60" y1="56.65" x2="214.20" y2="56.65" stroke="#111" stroke-width="0.45"/>
<line x1="217.88" y1="53.90" x2="217.88" y2="58.50" stroke="#111" stroke-width="0.45"/>
<line x1="216.58" y1="55.75" x2="219.18" y2="55.75" stroke="#111" stroke-width="0.45"/>
<line x1="216.58" y1="56.65" x2="219.18" y2="56.65" stroke="#111" stroke-width="0.45"/>
<line x1="222.85" y1="53.90" x2="222.85" y2="58.50" stroke="#111" stroke-width="0.45"/>
<line x1="221.55" y1="55.75" x2="224.15" y2="55.75" stroke="#111" stroke-width="0.45"/>
<line x1="221.55" y1="56.65" x2="224.15" y2="56.65" stroke="#111" stroke-width="0.45"/>
<line x1="227.83" y1="53.90" x2="227.83" y2="58.50" stroke="#111" stroke-width="0.45"/>
<line x1="226.53" y1="55.75" x2="229.13" y2="55.75" stroke="#111" stroke-width="0.45"/>
<line x1="226.53" y1="56.65" x2="229.13" y2="56.65" stroke="#111" stroke-width="0.45"/>
<line x1="232.80" y1="53.90" x2="232.80" y2="58.50" stroke="#111" stroke-width="0.45"/>
<line x1="231.50" y1="55.75" x2="234.10" y2="55.75" stroke="#111" stroke-width="0.45"/>
<line x1="231.50" y1="56.65" x2="234.10" y2="56.65" stroke="#111" stroke-width="0.45"/>
<line x1="237.78" y1="53.90" x2="237.78" y2="58.50" stroke="#111" stroke-width="0.45"/>
<line x1="236.48" y1="55.75" x2="239.08" y2="55.75" stroke="#111" stroke-width="0.45"/>
<line x1="236.48" y1="56.65" x2="239.08" y2="56.65" stroke="#111" stroke-width="0.45"/>
<line x1="242.75" y1="53.90" x2="242.75" y2="58.50" stroke="#111" stroke-width="0.45"/>
<line x1="241.45" y1="55.75" x2="244.05" y2="55.75" stroke="#111" stroke-width="0.45"/>
<line x1="241.45" y1="56.65" x2="244.05" y2="56.65" stroke="#111" stroke-width="0.45"/>
<line x1="247.73" y1="53.90" x2="247.73" y2="58.50" stroke="#111" stroke-width="0.45"/>
<line x1="246.43" y1="55.75" x2="249.03" y2="55.75" stroke="#111" stroke-width="0.45"/>
<line x1="246.43" y1="56.65" x2="249.03" y2="56.65" stroke="#111" stroke-width="0.45"/>
<line x1="252.70" y1="53.90" x2="252.70" y2="58.50" stroke="#111" stroke-width="0.45"/>
<line x1="251.40" y1="55.75" x2="254.00" y2="55.75" stroke="#111" stroke-width="0.45"/>
<line x1="251.40" y1="56.65" x2="254.00" y2="56.65" stroke="#111" stroke-width="0.45"/>
<line x1="257.68" y1="54.90" x2="257.68" y2="59.50" stroke="#111" stroke-width="0.45"/>
<line x1="256.38" y1="56.75" x2="258.98" y2="56.75" stroke="#111" stroke-width="0.45"/>
<line x1="256.38" y1="57.65" x2="258.98" y2="57.65" stroke="#111" stroke-width="0.45"/>
<line x1="327.33" y1="57.30" x2="327.33" y2="61.90" stroke="#111" stroke-width="0.45"/>
<line x1="326.03" y1="59.15" x2="328.63" y2="59.15" stroke="#111" stroke-width="0.45"/>
<line x1="326.03" y1="60.05" x2="328.63" y2="60.05" stroke="#111" stroke-width="0.45"/>
<line x1="332.30" y1="53.90" x2="332.30" y2="58.50" stroke="#111" stroke-width="0.45"/>
<line x1="331.00" y1="55.75" x2="333.60" y2="55.75" stroke="#111" stroke-width="0.45"/>
<line x1="331.00" y1="56.65" x2="333.60" y2="56.65" stroke="#111" stroke-width="0.45"/>
<circle cx="289.30" cy="149.60" r="2.7" fill="#000" stroke="#000" stroke-width="0.6"/>
<circle cx="289.30" cy="161.30" r="2.65" fill="#fff" stroke="#111" stroke-width="0.8"/>
<text x="295.60" y="152.90" font-size="10.5">GTP-γS (–pp)</text>
<text x="295.60" y="164.70" font-size="10.5">GTP-γS (+pp)</text>
</g>
<g class="panel-c">
<text x="374.60" y="20.60" font-size="21.8" font-weight="bold" fill="#000">c</text>
<text x="393.80" y="14.30" font-size="11.2" word-spacing="0.2">e37a</text>
<text x="416.50" y="30.80" font-size="11.4">Test potential (mV)</text>
<text x="404.90" y="45.30" font-size="11.2" text-anchor="middle">–60</text>
<text x="425.80" y="45.30" font-size="11.2" text-anchor="middle">–40</text>
<text x="449.50" y="45.30" font-size="11.2" text-anchor="middle">–20</text>
<text x="487.10" y="45.30" font-size="11.2" text-anchor="middle">20</text>
<text x="507.10" y="45.30" font-size="11.2" text-anchor="middle">40</text>
<text x="527.00" y="45.30" font-size="11.2" text-anchor="middle">60</text>
<text x="460.30" y="110.80" font-size="11.2" text-anchor="end">–100</text>
<text x="460.30" y="164.30" font-size="11.2" text-anchor="end">–200</text>
<line x1="393.30" y1="52.80" x2="537.60" y2="52.80" stroke="#111" stroke-width="1.0"/>
<line x1="465.20" y1="42.90" x2="465.20" y2="158.90" stroke="#111" stroke-width="1.0"/>
<line x1="393.70" y1="51.50" x2="393.70" y2="52.80" stroke="#111" stroke-width="0.8"/>
<line x1="403.58" y1="50.30" x2="403.58" y2="52.80" stroke="#111" stroke-width="0.8"/>
<line x1="413.85" y1="51.50" x2="413.85" y2="52.80" stroke="#111" stroke-width="0.8"/>
<line x1="424.12" y1="50.30" x2="424.12" y2="52.80" stroke="#111" stroke-width="0.8"/>
<line x1="434.39" y1="51.50" x2="434.39" y2="52.80" stroke="#111" stroke-width="0.8"/>
<line x1="444.66" y1="50.30" x2="444.66" y2="52.80" stroke="#111" stroke-width="0.8"/>
<line x1="454.93" y1="51.50" x2="454.93" y2="52.80" stroke="#111" stroke-width="0.8"/>
<line x1="475.47" y1="51.50" x2="475.47" y2="52.80" stroke="#111" stroke-width="0.8"/>
<line x1="485.74" y1="50.30" x2="485.74" y2="52.80" stroke="#111" stroke-width="0.8"/>
<line x1="496.01" y1="51.50" x2="496.01" y2="52.80" stroke="#111" stroke-width="0.8"/>
<line x1="506.28" y1="50.30" x2="506.28" y2="52.80" stroke="#111" stroke-width="0.8"/>
<line x1="516.55" y1="51.50" x2="516.55" y2="52.80" stroke="#111" stroke-width="0.8"/>
<line x1="526.82" y1="50.30" x2="526.82" y2="52.80" stroke="#111" stroke-width="0.8"/>
<line x1="537.20" y1="51.50" x2="537.20" y2="52.80" stroke="#111" stroke-width="0.8"/>
<line x1="463.40" y1="79.70" x2="465.20" y2="79.70" stroke="#111" stroke-width="0.8"/>
<line x1="462.00" y1="106.60" x2="465.20" y2="106.60" stroke="#111" stroke-width="0.8"/>
<line x1="463.40" y1="132.75" x2="465.20" y2="132.75" stroke="#111" stroke-width="0.8"/>
<line x1="462.00" y1="158.90" x2="465.20" y2="158.90" stroke="#111" stroke-width="0.8"/>
<polyline fill="none" stroke="#111" stroke-width="0.5" points="403.6,54.5 408.7,54.5 413.9,54.5 419.0,54.5 424.1,54.5 429.3,54.5 434.4,54.5 439.5,54.5 444.7,54.5 449.8,54.6 454.9,56.8 460.1,60.4 465.2,66.3 470.3,71.6 475.5,75.2 480.6,76.6 485.7,76.6 490.9,75.9 496.0,74.5 501.1,72.4 506.3,67.9 511.4,63.7 516.5,60.0 521.7,56.5 526.8,50.2"/>
<line x1="403.58" y1="53.70" x2="403.58" y2="55.30" stroke="#111" stroke-width="0.5"/>
<line x1="401.98" y1="53.70" x2="405.18" y2="53.70" stroke="#111" stroke-width="0.5"/>
<line x1="401.98" y1="55.30" x2="405.18" y2="55.30" stroke="#111" stroke-width="0.5"/>
<line x1="408.71" y1="53.70" x2="408.71" y2="55.30" stroke="#111" stroke-width="0.5"/>
<line x1="407.11" y1="53.70" x2="410.31" y2="53.70" stroke="#111" stroke-width="0.5"/>
<line x1="407.11" y1="55.30" x2="410.31" y2="55.30" stroke="#111" stroke-width="0.5"/>
<line x1="413.85" y1="53.70" x2="413.85" y2="55.30" stroke="#111" stroke-width="0.5"/>
<line x1="412.25" y1="53.70" x2="415.45" y2="53.70" stroke="#111" stroke-width="0.5"/>
<line x1="412.25" y1="55.30" x2="415.45" y2="55.30" stroke="#111" stroke-width="0.5"/>
<line x1="418.99" y1="53.70" x2="418.99" y2="55.30" stroke="#111" stroke-width="0.5"/>
<line x1="417.38" y1="53.70" x2="420.59" y2="53.70" stroke="#111" stroke-width="0.5"/>
<line x1="417.38" y1="55.30" x2="420.59" y2="55.30" stroke="#111" stroke-width="0.5"/>
<line x1="424.12" y1="53.70" x2="424.12" y2="55.30" stroke="#111" stroke-width="0.5"/>
<line x1="422.52" y1="53.70" x2="425.72" y2="53.70" stroke="#111" stroke-width="0.5"/>
<line x1="422.52" y1="55.30" x2="425.72" y2="55.30" stroke="#111" stroke-width="0.5"/>
<line x1="429.25" y1="53.70" x2="429.25" y2="55.30" stroke="#111" stroke-width="0.5"/>
<line x1="427.65" y1="53.70" x2="430.86" y2="53.70" stroke="#111" stroke-width="0.5"/>
<line x1="427.65" y1="55.30" x2="430.86" y2="55.30" stroke="#111" stroke-width="0.5"/>
<line x1="434.39" y1="53.70" x2="434.39" y2="55.30" stroke="#111" stroke-width="0.5"/>
<line x1="432.79" y1="53.70" x2="435.99" y2="53.70" stroke="#111" stroke-width="0.5"/>
<line x1="432.79" y1="55.30" x2="435.99" y2="55.30" stroke="#111" stroke-width="0.5"/>
<line x1="439.52" y1="53.70" x2="439.52" y2="55.30" stroke="#111" stroke-width="0.5"/>
<line x1="437.92" y1="53.70" x2="441.12" y2="53.70" stroke="#111" stroke-width="0.5"/>
<line x1="437.92" y1="55.30" x2="441.12" y2="55.30" stroke="#111" stroke-width="0.5"/>
<line x1="444.66" y1="53.70" x2="444.66" y2="55.30" stroke="#111" stroke-width="0.5"/>
<line x1="443.06" y1="53.70" x2="446.26" y2="53.70" stroke="#111" stroke-width="0.5"/>
<line x1="443.06" y1="55.30" x2="446.26" y2="55.30" stroke="#111" stroke-width="0.5"/>
<line x1="449.80" y1="53.80" x2="449.80" y2="55.40" stroke="#111" stroke-width="0.5"/>
<line x1="448.19" y1="53.80" x2="451.40" y2="53.80" stroke="#111" stroke-width="0.5"/>
<line x1="448.19" y1="55.40" x2="451.40" y2="55.40" stroke="#111" stroke-width="0.5"/>
<line x1="454.93" y1="55.68" x2="454.93" y2="57.92" stroke="#111" stroke-width="0.5"/>
<line x1="453.33" y1="55.68" x2="456.53" y2="55.68" stroke="#111" stroke-width="0.5"/>
<line x1="453.33" y1="57.92" x2="456.53" y2="57.92" stroke="#111" stroke-width="0.5"/>
<line x1="460.06" y1="58.27" x2="460.06" y2="62.53" stroke="#111" stroke-width="0.5"/>
<line x1="458.46" y1="58.27" x2="461.67" y2="58.27" stroke="#111" stroke-width="0.5"/>
<line x1="458.46" y1="62.53" x2="461.67" y2="62.53" stroke="#111" stroke-width="0.5"/>
<line x1="465.20" y1="62.52" x2="465.20" y2="70.08" stroke="#111" stroke-width="0.5"/>
<line x1="463.60" y1="62.52" x2="466.80" y2="62.52" stroke="#111" stroke-width="0.5"/>
<line x1="463.60" y1="70.08" x2="466.80" y2="70.08" stroke="#111" stroke-width="0.5"/>
<line x1="470.33" y1="66.34" x2="470.33" y2="76.86" stroke="#111" stroke-width="0.5"/>
<line x1="468.73" y1="66.34" x2="471.94" y2="66.34" stroke="#111" stroke-width="0.5"/>
<line x1="468.73" y1="76.86" x2="471.94" y2="76.86" stroke="#111" stroke-width="0.5"/>
<line x1="475.47" y1="68.93" x2="475.47" y2="81.47" stroke="#111" stroke-width="0.5"/>
<line x1="473.87" y1="68.93" x2="477.07" y2="68.93" stroke="#111" stroke-width="0.5"/>
<line x1="473.87" y1="81.47" x2="477.07" y2="81.47" stroke="#111" stroke-width="0.5"/>
<line x1="480.60" y1="69.94" x2="480.60" y2="83.26" stroke="#111" stroke-width="0.5"/>
<line x1="479.00" y1="69.94" x2="482.20" y2="69.94" stroke="#111" stroke-width="0.5"/>
<line x1="479.00" y1="83.26" x2="482.20" y2="83.26" stroke="#111" stroke-width="0.5"/>
<line x1="485.74" y1="69.94" x2="485.74" y2="83.26" stroke="#111" stroke-width="0.5"/>
<line x1="484.14" y1="69.94" x2="487.34" y2="69.94" stroke="#111" stroke-width="0.5"/>
<line x1="484.14" y1="83.26" x2="487.34" y2="83.26" stroke="#111" stroke-width="0.5"/>
<line x1="490.88" y1="69.43" x2="490.88" y2="82.37" stroke="#111" stroke-width="0.5"/>
<line x1="489.27" y1="69.43" x2="492.48" y2="69.43" stroke="#111" stroke-width="0.5"/>
<line x1="489.27" y1="82.37" x2="492.48" y2="82.37" stroke="#111" stroke-width="0.5"/>
<line x1="496.01" y1="68.42" x2="496.01" y2="80.58" stroke="#111" stroke-width="0.5"/>
<line x1="494.41" y1="68.42" x2="497.61" y2="68.42" stroke="#111" stroke-width="0.5"/>
<line x1="494.41" y1="80.58" x2="497.61" y2="80.58" stroke="#111" stroke-width="0.5"/>
<line x1="501.14" y1="66.91" x2="501.14" y2="77.89" stroke="#111" stroke-width="0.5"/>
<line x1="499.54" y1="66.91" x2="502.75" y2="66.91" stroke="#111" stroke-width="0.5"/>
<line x1="499.54" y1="77.89" x2="502.75" y2="77.89" stroke="#111" stroke-width="0.5"/>
<line x1="506.28" y1="63.67" x2="506.28" y2="72.13" stroke="#111" stroke-width="0.5"/>
<line x1="504.68" y1="63.67" x2="507.88" y2="63.67" stroke="#111" stroke-width="0.5"/>
<line x1="504.68" y1="72.13" x2="507.88" y2="72.13" stroke="#111" stroke-width="0.5"/>
<line x1="511.41" y1="60.65" x2="511.41" y2="66.75" stroke="#111" stroke-width="0.5"/>
<line x1="509.81" y1="60.65" x2="513.01" y2="60.65" stroke="#111" stroke-width="0.5"/>
<line x1="509.81" y1="66.75" x2="513.01" y2="66.75" stroke="#111" stroke-width="0.5"/>
<line x1="516.55" y1="57.98" x2="516.55" y2="62.02" stroke="#111" stroke-width="0.5"/>
<line x1="514.95" y1="57.98" x2="518.15" y2="57.98" stroke="#111" stroke-width="0.5"/>
<line x1="514.95" y1="62.02" x2="518.15" y2="62.02" stroke="#111" stroke-width="0.5"/>
<line x1="521.68" y1="55.46" x2="521.68" y2="57.54" stroke="#111" stroke-width="0.5"/>
<line x1="520.08" y1="55.46" x2="523.28" y2="55.46" stroke="#111" stroke-width="0.5"/>
<line x1="520.08" y1="57.54" x2="523.28" y2="57.54" stroke="#111" stroke-width="0.5"/>
<line x1="526.82" y1="49.40" x2="526.82" y2="51.00" stroke="#111" stroke-width="0.5"/>
<line x1="525.22" y1="49.40" x2="528.42" y2="49.40" stroke="#111" stroke-width="0.5"/>
<line x1="525.22" y1="51.00" x2="528.42" y2="51.00" stroke="#111" stroke-width="0.5"/>
<circle cx="403.58" cy="54.50" r="2.5" fill="#000" stroke="#000" stroke-width="0.6"/>
<circle cx="408.71" cy="54.50" r="2.5" fill="#000" stroke="#000" stroke-width="0.6"/>
<circle cx="413.85" cy="54.50" r="2.5" fill="#000" stroke="#000" stroke-width="0.6"/>
<circle cx="418.99" cy="54.50" r="2.5" fill="#000" stroke="#000" stroke-width="0.6"/>
<circle cx="424.12" cy="54.50" r="2.5" fill="#000" stroke="#000" stroke-width="0.6"/>
<circle cx="429.25" cy="54.50" r="2.5" fill="#000" stroke="#000" stroke-width="0.6"/>
<circle cx="434.39" cy="54.50" r="2.5" fill="#000" stroke="#000" stroke-width="0.6"/>
<circle cx="439.52" cy="54.50" r="2.5" fill="#000" stroke="#000" stroke-width="0.6"/>
<circle cx="444.66" cy="54.50" r="2.5" fill="#000" stroke="#000" stroke-width="0.6"/>
<circle cx="449.80" cy="54.60" r="2.5" fill="#000" stroke="#000" stroke-width="0.6"/>
<circle cx="454.93" cy="56.80" r="2.5" fill="#000" stroke="#000" stroke-width="0.6"/>
<circle cx="460.06" cy="60.40" r="2.5" fill="#000" stroke="#000" stroke-width="0.6"/>
<circle cx="465.20" cy="66.30" r="2.5" fill="#000" stroke="#000" stroke-width="0.6"/>
<circle cx="470.33" cy="71.60" r="2.5" fill="#000" stroke="#000" stroke-width="0.6"/>
<circle cx="475.47" cy="75.20" r="2.5" fill="#000" stroke="#000" stroke-width="0.6"/>
<circle cx="480.60" cy="76.60" r="2.5" fill="#000" stroke="#000" stroke-width="0.6"/>
<circle cx="485.74" cy="76.60" r="2.5" fill="#000" stroke="#000" stroke-width="0.6"/>
<circle cx="490.88" cy="75.90" r="2.5" fill="#000" stroke="#000" stroke-width="0.6"/>
<circle cx="496.01" cy="74.50" r="2.5" fill="#000" stroke="#000" stroke-width="0.6"/>
<circle cx="501.14" cy="72.40" r="2.5" fill="#000" stroke="#000" stroke-width="0.6"/>
<circle cx="506.28" cy="67.90" r="2.5" fill="#000" stroke="#000" stroke-width="0.6"/>
<circle cx="511.41" cy="63.70" r="2.5" fill="#000" stroke="#000" stroke-width="0.6"/>
<circle cx="516.55" cy="60.00" r="2.5" fill="#000" stroke="#000" stroke-width="0.6"/>
<circle cx="521.68" cy="56.50" r="2.5" fill="#000" stroke="#000" stroke-width="0.6"/>
<circle cx="526.82" cy="50.20" r="2.5" fill="#000" stroke="#000" stroke-width="0.6"/>
<polyline fill="none" stroke="#111" stroke-width="0.5" points="403.6,54.5 408.7,54.5 413.9,54.5 419.0,54.5 424.1,54.5 429.3,54.5 434.4,54.5 439.5,54.5 444.7,55.0 449.8,56.3 454.9,62.0 460.1,71.1 465.2,83.6 470.3,90.3 475.5,91.5 480.6,89.1 485.7,84.9 490.9,79.6 496.0,75.2 501.1,70.3 506.3,65.9 511.4,61.5 516.5,58.0 521.7,54.9 526.8,52.2"/>
<line x1="460.06" y1="67.07" x2="460.06" y2="75.13" stroke="#111" stroke-width="0.5"/>
<line x1="458.46" y1="67.07" x2="461.67" y2="67.07" stroke="#111" stroke-width="0.5"/>
<line x1="458.46" y1="75.13" x2="461.67" y2="75.13" stroke="#111" stroke-width="0.5"/>
<line x1="465.20" y1="76.82" x2="465.20" y2="90.38" stroke="#111" stroke-width="0.5"/>
<line x1="463.60" y1="76.82" x2="466.80" y2="76.82" stroke="#111" stroke-width="0.5"/>
<line x1="463.60" y1="90.38" x2="466.80" y2="90.38" stroke="#111" stroke-width="0.5"/>
<line x1="470.33" y1="82.05" x2="470.33" y2="98.55" stroke="#111" stroke-width="0.5"/>
<line x1="468.73" y1="82.05" x2="471.94" y2="82.05" stroke="#111" stroke-width="0.5"/>
<line x1="468.73" y1="98.55" x2="471.94" y2="98.55" stroke="#111" stroke-width="0.5"/>
<line x1="475.47" y1="82.99" x2="475.47" y2="100.01" stroke="#111" stroke-width="0.5"/>
<line x1="473.87" y1="82.99" x2="477.07" y2="82.99" stroke="#111" stroke-width="0.5"/>
<line x1="473.87" y1="100.01" x2="477.07" y2="100.01" stroke="#111" stroke-width="0.5"/>
<line x1="480.60" y1="81.11" x2="480.60" y2="97.09" stroke="#111" stroke-width="0.5"/>
<line x1="479.00" y1="81.11" x2="482.20" y2="81.11" stroke="#111" stroke-width="0.5"/>
<line x1="479.00" y1="97.09" x2="482.20" y2="97.09" stroke="#111" stroke-width="0.5"/>
<line x1="485.74" y1="77.84" x2="485.74" y2="91.96" stroke="#111" stroke-width="0.5"/>
<line x1="484.14" y1="77.84" x2="487.34" y2="77.84" stroke="#111" stroke-width="0.5"/>
<line x1="484.14" y1="91.96" x2="487.34" y2="91.96" stroke="#111" stroke-width="0.5"/>
<line x1="490.88" y1="73.70" x2="490.88" y2="85.50" stroke="#111" stroke-width="0.5"/>
<line x1="489.27" y1="73.70" x2="492.48" y2="73.70" stroke="#111" stroke-width="0.5"/>
<line x1="489.27" y1="85.50" x2="492.48" y2="85.50" stroke="#111" stroke-width="0.5"/>
<line x1="496.01" y1="70.27" x2="496.01" y2="80.13" stroke="#111" stroke-width="0.5"/>
<line x1="494.41" y1="70.27" x2="497.61" y2="70.27" stroke="#111" stroke-width="0.5"/>
<line x1="494.41" y1="80.13" x2="497.61" y2="80.13" stroke="#111" stroke-width="0.5"/>
<line x1="501.14" y1="66.45" x2="501.14" y2="74.15" stroke="#111" stroke-width="0.5"/>
<line x1="499.54" y1="66.45" x2="502.75" y2="66.45" stroke="#111" stroke-width="0.5"/>
<line x1="499.54" y1="74.15" x2="502.75" y2="74.15" stroke="#111" stroke-width="0.5"/>
<line x1="506.28" y1="63.02" x2="506.28" y2="68.78" stroke="#111" stroke-width="0.5"/>
<line x1="504.68" y1="63.02" x2="507.88" y2="63.02" stroke="#111" stroke-width="0.5"/>
<line x1="504.68" y1="68.78" x2="507.88" y2="68.78" stroke="#111" stroke-width="0.5"/>
<circle cx="403.58" cy="54.50" r="2.5" fill="#fff" stroke="#111" stroke-width="0.75"/>
<circle cx="408.71" cy="54.50" r="2.5" fill="#fff" stroke="#111" stroke-width="0.75"/>
<circle cx="413.85" cy="54.50" r="2.5" fill="#fff" stroke="#111" stroke-width="0.75"/>
<circle cx="418.99" cy="54.50" r="2.5" fill="#fff" stroke="#111" stroke-width="0.75"/>
<circle cx="424.12" cy="54.50" r="2.5" fill="#fff" stroke="#111" stroke-width="0.75"/>
<circle cx="429.25" cy="54.50" r="2.5" fill="#fff" stroke="#111" stroke-width="0.75"/>
<circle cx="434.39" cy="54.50" r="2.5" fill="#fff" stroke="#111" stroke-width="0.75"/>
<circle cx="439.52" cy="54.50" r="2.5" fill="#fff" stroke="#111" stroke-width="0.75"/>
<circle cx="444.66" cy="55.00" r="2.5" fill="#fff" stroke="#111" stroke-width="0.75"/>
<circle cx="449.80" cy="56.30" r="2.5" fill="#fff" stroke="#111" stroke-width="0.75"/>
<circle cx="454.93" cy="62.00" r="2.5" fill="#fff" stroke="#111" stroke-width="0.75"/>
<circle cx="460.06" cy="71.10" r="2.5" fill="#fff" stroke="#111" stroke-width="0.75"/>
<circle cx="465.20" cy="83.60" r="2.5" fill="#fff" stroke="#111" stroke-width="0.75"/>
<circle cx="470.33" cy="90.30" r="2.5" fill="#fff" stroke="#111" stroke-width="0.75"/>
<circle cx="475.47" cy="91.50" r="2.5" fill="#fff" stroke="#111" stroke-width="0.75"/>
<circle cx="480.60" cy="89.10" r="2.5" fill="#fff" stroke="#111" stroke-width="0.75"/>
<circle cx="485.74" cy="84.90" r="2.5" fill="#fff" stroke="#111" stroke-width="0.75"/>
<circle cx="490.88" cy="79.60" r="2.5" fill="#fff" stroke="#111" stroke-width="0.75"/>
<circle cx="496.01" cy="75.20" r="2.5" fill="#fff" stroke="#111" stroke-width="0.75"/>
<circle cx="501.14" cy="70.30" r="2.5" fill="#fff" stroke="#111" stroke-width="0.75"/>
<circle cx="506.28" cy="65.90" r="2.5" fill="#fff" stroke="#111" stroke-width="0.75"/>
<circle cx="511.41" cy="61.50" r="2.5" fill="#fff" stroke="#111" stroke-width="0.75"/>
<circle cx="516.55" cy="58.00" r="2.5" fill="#fff" stroke="#111" stroke-width="0.75"/>
<circle cx="521.68" cy="54.90" r="2.5" fill="#fff" stroke="#111" stroke-width="0.75"/>
<circle cx="526.82" cy="52.20" r="2.5" fill="#fff" stroke="#111" stroke-width="0.75"/>
<line x1="403.58" y1="52.20" x2="403.58" y2="56.80" stroke="#111" stroke-width="0.45"/>
<line x1="402.28" y1="54.05" x2="404.88" y2="54.05" stroke="#111" stroke-width="0.45"/>
<line x1="402.28" y1="54.95" x2="404.88" y2="54.95" stroke="#111" stroke-width="0.45"/>
<line x1="408.71" y1="52.20" x2="408.71" y2="56.80" stroke="#111" stroke-width="0.45"/>
<line x1="407.41" y1="54.05" x2="410.01" y2="54.05" stroke="#111" stroke-width="0.45"/>
<line x1="407.41" y1="54.95" x2="410.01" y2="54.95" stroke="#111" stroke-width="0.45"/>
<line x1="413.85" y1="52.20" x2="413.85" y2="56.80" stroke="#111" stroke-width="0.45"/>
<line x1="412.55" y1="54.05" x2="415.15" y2="54.05" stroke="#111" stroke-width="0.45"/>
<line x1="412.55" y1="54.95" x2="415.15" y2="54.95" stroke="#111" stroke-width="0.45"/>
<line x1="418.99" y1="52.20" x2="418.99" y2="56.80" stroke="#111" stroke-width="0.45"/>
<line x1="417.69" y1="54.05" x2="420.29" y2="54.05" stroke="#111" stroke-width="0.45"/>
<line x1="417.69" y1="54.95" x2="420.29" y2="54.95" stroke="#111" stroke-width="0.45"/>
<line x1="424.12" y1="52.20" x2="424.12" y2="56.80" stroke="#111" stroke-width="0.45"/>
<line x1="422.82" y1="54.05" x2="425.42" y2="54.05" stroke="#111" stroke-width="0.45"/>
<line x1="422.82" y1="54.95" x2="425.42" y2="54.95" stroke="#111" stroke-width="0.45"/>
<line x1="429.25" y1="52.20" x2="429.25" y2="56.80" stroke="#111" stroke-width="0.45"/>
<line x1="427.95" y1="54.05" x2="430.56" y2="54.05" stroke="#111" stroke-width="0.45"/>
<line x1="427.95" y1="54.95" x2="430.56" y2="54.95" stroke="#111" stroke-width="0.45"/>
<line x1="434.39" y1="52.20" x2="434.39" y2="56.80" stroke="#111" stroke-width="0.45"/>
<line x1="433.09" y1="54.05" x2="435.69" y2="54.05" stroke="#111" stroke-width="0.45"/>
<line x1="433.09" y1="54.95" x2="435.69" y2="54.95" stroke="#111" stroke-width="0.45"/>
<line x1="439.52" y1="52.20" x2="439.52" y2="56.80" stroke="#111" stroke-width="0.45"/>
<line x1="438.22" y1="54.05" x2="440.82" y2="54.05" stroke="#111" stroke-width="0.45"/>
<line x1="438.22" y1="54.95" x2="440.82" y2="54.95" stroke="#111" stroke-width="0.45"/>
<line x1="444.66" y1="52.70" x2="444.66" y2="57.30" stroke="#111" stroke-width="0.45"/>
<line x1="443.36" y1="54.55" x2="445.96" y2="54.55" stroke="#111" stroke-width="0.45"/>
<line x1="443.36" y1="55.45" x2="445.96" y2="55.45" stroke="#111" stroke-width="0.45"/>
<line x1="449.80" y1="54.00" x2="449.80" y2="58.60" stroke="#111" stroke-width="0.45"/>
<line x1="448.50" y1="55.85" x2="451.10" y2="55.85" stroke="#111" stroke-width="0.45"/>
<line x1="448.50" y1="56.75" x2="451.10" y2="56.75" stroke="#111" stroke-width="0.45"/>
<circle cx="484.40" cy="149.60" r="2.7" fill="#000" stroke="#000" stroke-width="0.6"/>
<circle cx="484.40" cy="161.30" r="2.65" fill="#fff" stroke="#111" stroke-width="0.8"/>
<text x="491.10" y="152.90" font-size="10.5">GTP-γS (–pp)</text>
<text x="491.10" y="164.70" font-size="10.5">GTP-γS (+pp)</text>
</g>
<g class="panel-d">
<text x="570.30" y="20.60" font-size="22.6" font-weight="bold" fill="#000">d</text>
<text x="592.90" y="14.30" font-size="11.2" word-spacing="0.2">e37a + PTX</text>
<text x="612.10" y="31.60" font-size="11.4">Test potential (mV)</text>
<text x="597.60" y="46.60" font-size="11.2" text-anchor="middle">–60</text>
<text x="618.80" y="46.60" font-size="11.2" text-anchor="middle">–40</text>
<text x="641.60" y="46.60" font-size="11.2" text-anchor="middle">–20</text>
<text x="679.60" y="46.60" font-size="11.2" text-anchor="middle">20</text>
<text x="699.40" y="46.60" font-size="11.2" text-anchor="middle">40</text>
<text x="719.60" y="46.60" font-size="11.2" text-anchor="middle">60</text>
<text x="652.00" y="163.60" font-size="11.2" text-anchor="end">–200</text>
<line x1="587.30" y1="52.50" x2="732.60" y2="52.50" stroke="#111" stroke-width="1.0"/>
<line x1="659.80" y1="42.40" x2="659.80" y2="158.90" stroke="#111" stroke-width="1.0"/>
<line x1="587.70" y1="51.20" x2="587.70" y2="52.50" stroke="#111" stroke-width="0.8"/>
<line x1="598.30" y1="50.00" x2="598.30" y2="52.50" stroke="#111" stroke-width="0.8"/>
<line x1="608.55" y1="51.20" x2="608.55" y2="52.50" stroke="#111" stroke-width="0.8"/>
<line x1="618.80" y1="50.00" x2="618.80" y2="52.50" stroke="#111" stroke-width="0.8"/>
<line x1="629.05" y1="51.20" x2="629.05" y2="52.50" stroke="#111" stroke-width="0.8"/>
<line x1="639.30" y1="50.00" x2="639.30" y2="52.50" stroke="#111" stroke-width="0.8"/>
<line x1="649.55" y1="51.20" x2="649.55" y2="52.50" stroke="#111" stroke-width="0.8"/>
<line x1="670.05" y1="51.20" x2="670.05" y2="52.50" stroke="#111" stroke-width="0.8"/>
<line x1="680.30" y1="50.00" x2="680.30" y2="52.50" stroke="#111" stroke-width="0.8"/>
<line x1="690.55" y1="51.20" x2="690.55" y2="52.50" stroke="#111" stroke-width="0.8"/>
<line x1="700.80" y1="50.00" x2="700.80" y2="52.50" stroke="#111" stroke-width="0.8"/>
<line x1="711.05" y1="51.20" x2="711.05" y2="52.50" stroke="#111" stroke-width="0.8"/>
<line x1="721.30" y1="50.00" x2="721.30" y2="52.50" stroke="#111" stroke-width="0.8"/>
<line x1="732.20" y1="51.20" x2="732.20" y2="52.50" stroke="#111" stroke-width="0.8"/>
<line x1="658.00" y1="79.10" x2="659.80" y2="79.10" stroke="#111" stroke-width="0.8"/>
<line x1="656.60" y1="105.70" x2="659.80" y2="105.70" stroke="#111" stroke-width="0.8"/>
<line x1="658.00" y1="132.30" x2="659.80" y2="132.30" stroke="#111" stroke-width="0.8"/>
<line x1="656.60" y1="158.90" x2="659.80" y2="158.90" stroke="#111" stroke-width="0.8"/>
<polyline fill="none" stroke="#111" stroke-width="0.5" points="598.3,55.2 603.4,56.4 608.5,55.2 613.7,55.7 618.8,55.2 623.9,55.2 629.0,55.9 634.2,55.2 639.3,57.2 644.4,62.0 649.5,71.9 654.7,90.8 659.8,110.7 664.9,124.8 670.0,127.8 675.2,125.5 680.3,117.2 685.4,108.8 690.5,99.6 695.7,91.0 700.8,82.6 705.9,74.7 711.0,66.8 716.2,62.0 721.3,52.2"/>
<line x1="598.30" y1="54.40" x2="598.30" y2="56.00" stroke="#111" stroke-width="0.5"/>
<line x1="596.70" y1="54.40" x2="599.90" y2="54.40" stroke="#111" stroke-width="0.5"/>
<line x1="596.70" y1="56.00" x2="599.90" y2="56.00" stroke="#111" stroke-width="0.5"/>
<line x1="603.42" y1="55.60" x2="603.42" y2="57.20" stroke="#111" stroke-width="0.5"/>
<line x1="601.82" y1="55.60" x2="605.02" y2="55.60" stroke="#111" stroke-width="0.5"/>
<line x1="601.82" y1="57.20" x2="605.02" y2="57.20" stroke="#111" stroke-width="0.5"/>
<line x1="608.55" y1="54.40" x2="608.55" y2="56.00" stroke="#111" stroke-width="0.5"/>
<line x1="606.95" y1="54.40" x2="610.15" y2="54.40" stroke="#111" stroke-width="0.5"/>
<line x1="606.95" y1="56.00" x2="610.15" y2="56.00" stroke="#111" stroke-width="0.5"/>
<line x1="613.67" y1="54.90" x2="613.67" y2="56.50" stroke="#111" stroke-width="0.5"/>
<line x1="612.07" y1="54.90" x2="615.27" y2="54.90" stroke="#111" stroke-width="0.5"/>
<line x1="612.07" y1="56.50" x2="615.27" y2="56.50" stroke="#111" stroke-width="0.5"/>
<line x1="618.80" y1="54.40" x2="618.80" y2="56.00" stroke="#111" stroke-width="0.5"/>
<line x1="617.20" y1="54.40" x2="620.40" y2="54.40" stroke="#111" stroke-width="0.5"/>
<line x1="617.20" y1="56.00" x2="620.40" y2="56.00" stroke="#111" stroke-width="0.5"/>
<line x1="623.92" y1="54.40" x2="623.92" y2="56.00" stroke="#111" stroke-width="0.5"/>
<line x1="622.32" y1="54.40" x2="625.52" y2="54.40" stroke="#111" stroke-width="0.5"/>
<line x1="622.32" y1="56.00" x2="625.52" y2="56.00" stroke="#111" stroke-width="0.5"/>
<line x1="629.05" y1="55.10" x2="629.05" y2="56.70" stroke="#111" stroke-width="0.5"/>
<line x1="627.45" y1="55.10" x2="630.65" y2="55.10" stroke="#111" stroke-width="0.5"/>
<line x1="627.45" y1="56.70" x2="630.65" y2="56.70" stroke="#111" stroke-width="0.5"/>
<line x1="634.17" y1="54.40" x2="634.17" y2="56.00" stroke="#111" stroke-width="0.5"/>
<line x1="632.57" y1="54.40" x2="635.77" y2="54.40" stroke="#111" stroke-width="0.5"/>
<line x1="632.57" y1="56.00" x2="635.77" y2="56.00" stroke="#111" stroke-width="0.5"/>
<line x1="639.30" y1="56.40" x2="639.30" y2="58.00" stroke="#111" stroke-width="0.5"/>
<line x1="637.70" y1="56.40" x2="640.90" y2="56.40" stroke="#111" stroke-width="0.5"/>
<line x1="637.70" y1="58.00" x2="640.90" y2="58.00" stroke="#111" stroke-width="0.5"/>
<line x1="644.42" y1="61.19" x2="644.42" y2="62.81" stroke="#111" stroke-width="0.5"/>
<line x1="642.82" y1="61.19" x2="646.02" y2="61.19" stroke="#111" stroke-width="0.5"/>
<line x1="642.82" y1="62.81" x2="646.02" y2="62.81" stroke="#111" stroke-width="0.5"/>
<line x1="649.55" y1="70.25" x2="649.55" y2="73.55" stroke="#111" stroke-width="0.5"/>
<line x1="647.95" y1="70.25" x2="651.15" y2="70.25" stroke="#111" stroke-width="0.5"/>
<line x1="647.95" y1="73.55" x2="651.15" y2="73.55" stroke="#111" stroke-width="0.5"/>
<line x1="654.67" y1="87.54" x2="654.67" y2="94.06" stroke="#111" stroke-width="0.5"/>
<line x1="653.07" y1="87.54" x2="656.27" y2="87.54" stroke="#111" stroke-width="0.5"/>
<line x1="653.07" y1="94.06" x2="656.27" y2="94.06" stroke="#111" stroke-width="0.5"/>
<line x1="659.80" y1="105.75" x2="659.80" y2="115.65" stroke="#111" stroke-width="0.5"/>
<line x1="658.20" y1="105.75" x2="661.40" y2="105.75" stroke="#111" stroke-width="0.5"/>
<line x1="658.20" y1="115.65" x2="661.40" y2="115.65" stroke="#111" stroke-width="0.5"/>
<line x1="664.92" y1="118.65" x2="664.92" y2="130.95" stroke="#111" stroke-width="0.5"/>
<line x1="663.32" y1="118.65" x2="666.52" y2="118.65" stroke="#111" stroke-width="0.5"/>
<line x1="663.32" y1="130.95" x2="666.52" y2="130.95" stroke="#111" stroke-width="0.5"/>
<line x1="670.05" y1="121.40" x2="670.05" y2="134.20" stroke="#111" stroke-width="0.5"/>
<line x1="668.45" y1="121.40" x2="671.65" y2="121.40" stroke="#111" stroke-width="0.5"/>
<line x1="668.45" y1="134.20" x2="671.65" y2="134.20" stroke="#111" stroke-width="0.5"/>
<line x1="675.17" y1="119.30" x2="675.17" y2="131.71" stroke="#111" stroke-width="0.5"/>
<line x1="673.57" y1="119.30" x2="676.77" y2="119.30" stroke="#111" stroke-width="0.5"/>
<line x1="673.57" y1="131.71" x2="676.77" y2="131.71" stroke="#111" stroke-width="0.5"/>
<line x1="680.30" y1="111.70" x2="680.30" y2="122.70" stroke="#111" stroke-width="0.5"/>
<line x1="678.70" y1="111.70" x2="681.90" y2="111.70" stroke="#111" stroke-width="0.5"/>
<line x1="678.70" y1="122.70" x2="681.90" y2="122.70" stroke="#111" stroke-width="0.5"/>
<line x1="685.42" y1="104.01" x2="685.42" y2="113.59" stroke="#111" stroke-width="0.5"/>
<line x1="683.82" y1="104.01" x2="687.02" y2="104.01" stroke="#111" stroke-width="0.5"/>
<line x1="683.82" y1="113.59" x2="687.02" y2="113.59" stroke="#111" stroke-width="0.5"/>
<line x1="690.55" y1="95.60" x2="690.55" y2="103.60" stroke="#111" stroke-width="0.5"/>
<line x1="688.95" y1="95.60" x2="692.15" y2="95.60" stroke="#111" stroke-width="0.5"/>
<line x1="688.95" y1="103.60" x2="692.15" y2="103.60" stroke="#111" stroke-width="0.5"/>
<line x1="695.67" y1="87.73" x2="695.67" y2="94.27" stroke="#111" stroke-width="0.5"/>
<line x1="694.07" y1="87.73" x2="697.27" y2="87.73" stroke="#111" stroke-width="0.5"/>
<line x1="694.07" y1="94.27" x2="697.27" y2="94.27" stroke="#111" stroke-width="0.5"/>
<line x1="700.80" y1="80.04" x2="700.80" y2="85.16" stroke="#111" stroke-width="0.5"/>
<line x1="699.20" y1="80.04" x2="702.40" y2="80.04" stroke="#111" stroke-width="0.5"/>
<line x1="699.20" y1="85.16" x2="702.40" y2="85.16" stroke="#111" stroke-width="0.5"/>
<line x1="705.92" y1="72.81" x2="705.92" y2="76.59" stroke="#111" stroke-width="0.5"/>
<line x1="704.32" y1="72.81" x2="707.52" y2="72.81" stroke="#111" stroke-width="0.5"/>
<line x1="704.32" y1="76.59" x2="707.52" y2="76.59" stroke="#111" stroke-width="0.5"/>
<line x1="711.05" y1="65.58" x2="711.05" y2="68.02" stroke="#111" stroke-width="0.5"/>
<line x1="709.45" y1="65.58" x2="712.65" y2="65.58" stroke="#111" stroke-width="0.5"/>
<line x1="709.45" y1="68.02" x2="712.65" y2="68.02" stroke="#111" stroke-width="0.5"/>
<line x1="716.17" y1="61.19" x2="716.17" y2="62.81" stroke="#111" stroke-width="0.5"/>
<line x1="714.57" y1="61.19" x2="717.77" y2="61.19" stroke="#111" stroke-width="0.5"/>
<line x1="714.57" y1="62.81" x2="717.77" y2="62.81" stroke="#111" stroke-width="0.5"/>
<line x1="721.30" y1="51.40" x2="721.30" y2="53.00" stroke="#111" stroke-width="0.5"/>
<line x1="719.70" y1="51.40" x2="722.90" y2="51.40" stroke="#111" stroke-width="0.5"/>
<line x1="719.70" y1="53.00" x2="722.90" y2="53.00" stroke="#111" stroke-width="0.5"/>
<circle cx="598.30" cy="55.20" r="2.5" fill="#000" stroke="#000" stroke-width="0.6"/>
<circle cx="603.42" cy="56.40" r="2.5" fill="#000" stroke="#000" stroke-width="0.6"/>
<circle cx="608.55" cy="55.20" r="2.5" fill="#000" stroke="#000" stroke-width="0.6"/>
<circle cx="613.67" cy="55.70" r="2.5" fill="#000" stroke="#000" stroke-width="0.6"/>
<circle cx="618.80" cy="55.20" r="2.5" fill="#000" stroke="#000" stroke-width="0.6"/>
<circle cx="623.92" cy="55.20" r="2.5" fill="#000" stroke="#000" stroke-width="0.6"/>
<circle cx="629.05" cy="55.90" r="2.5" fill="#000" stroke="#000" stroke-width="0.6"/>
<circle cx="634.17" cy="55.20" r="2.5" fill="#000" stroke="#000" stroke-width="0.6"/>
<circle cx="639.30" cy="57.20" r="2.5" fill="#000" stroke="#000" stroke-width="0.6"/>
<circle cx="644.42" cy="62.00" r="2.5" fill="#000" stroke="#000" stroke-width="0.6"/>
<circle cx="649.55" cy="71.90" r="2.5" fill="#000" stroke="#000" stroke-width="0.6"/>
<circle cx="654.67" cy="90.80" r="2.5" fill="#000" stroke="#000" stroke-width="0.6"/>
<circle cx="659.80" cy="110.70" r="2.5" fill="#000" stroke="#000" stroke-width="0.6"/>
<circle cx="664.92" cy="124.80" r="2.5" fill="#000" stroke="#000" stroke-width="0.6"/>
<circle cx="670.05" cy="127.80" r="2.5" fill="#000" stroke="#000" stroke-width="0.6"/>
<circle cx="675.17" cy="125.50" r="2.5" fill="#000" stroke="#000" stroke-width="0.6"/>
<circle cx="680.30" cy="117.20" r="2.5" fill="#000" stroke="#000" stroke-width="0.6"/>
<circle cx="685.42" cy="108.80" r="2.5" fill="#000" stroke="#000" stroke-width="0.6"/>
<circle cx="690.55" cy="99.60" r="2.5" fill="#000" stroke="#000" stroke-width="0.6"/>
<circle cx="695.67" cy="91.00" r="2.5" fill="#000" stroke="#000" stroke-width="0.6"/>
<circle cx="700.80" cy="82.60" r="2.5" fill="#000" stroke="#000" stroke-width="0.6"/>
<circle cx="705.92" cy="74.70" r="2.5" fill="#000" stroke="#000" stroke-width="0.6"/>
<circle cx="711.05" cy="66.80" r="2.5" fill="#000" stroke="#000" stroke-width="0.6"/>
<circle cx="716.17" cy="62.00" r="2.5" fill="#000" stroke="#000" stroke-width="0.6"/>
<circle cx="721.30" cy="52.20" r="2.5" fill="#000" stroke="#000" stroke-width="0.6"/>
<polyline fill="none" stroke="#111" stroke-width="0.5" points="598.3,55.1 603.4,55.1 608.5,55.1 613.7,55.1 618.8,55.1 623.9,55.1 629.0,55.1 634.2,55.1 639.3,57.4 644.4,64.0 649.5,80.2 654.7,101.8 659.8,120.6 664.9,131.5 670.0,131.9 675.2,124.5 680.3,113.9 685.4,104.5 690.5,93.4 695.7,85.0 700.8,77.1 705.9,69.2 711.0,63.5 716.2,58.7 721.3,52.2"/>
<line x1="649.55" y1="77.15" x2="649.55" y2="83.25" stroke="#111" stroke-width="0.5"/>
<line x1="647.95" y1="77.15" x2="651.15" y2="77.15" stroke="#111" stroke-width="0.5"/>
<line x1="647.95" y1="83.25" x2="651.15" y2="83.25" stroke="#111" stroke-width="0.5"/>
<line x1="654.67" y1="96.38" x2="654.67" y2="107.22" stroke="#111" stroke-width="0.5"/>
<line x1="653.07" y1="96.38" x2="656.27" y2="96.38" stroke="#111" stroke-width="0.5"/>
<line x1="653.07" y1="107.22" x2="656.27" y2="107.22" stroke="#111" stroke-width="0.5"/>
<line x1="659.80" y1="113.11" x2="659.80" y2="128.09" stroke="#111" stroke-width="0.5"/>
<line x1="658.20" y1="113.11" x2="661.40" y2="113.11" stroke="#111" stroke-width="0.5"/>
<line x1="658.20" y1="128.09" x2="661.40" y2="128.09" stroke="#111" stroke-width="0.5"/>
<line x1="664.92" y1="122.81" x2="664.92" y2="140.19" stroke="#111" stroke-width="0.5"/>
<line x1="663.32" y1="122.81" x2="666.52" y2="122.81" stroke="#111" stroke-width="0.5"/>
<line x1="663.32" y1="140.19" x2="666.52" y2="140.19" stroke="#111" stroke-width="0.5"/>
<line x1="670.05" y1="123.17" x2="670.05" y2="140.63" stroke="#111" stroke-width="0.5"/>
<line x1="668.45" y1="123.17" x2="671.65" y2="123.17" stroke="#111" stroke-width="0.5"/>
<line x1="668.45" y1="140.63" x2="671.65" y2="140.63" stroke="#111" stroke-width="0.5"/>
<line x1="675.17" y1="116.58" x2="675.17" y2="132.42" stroke="#111" stroke-width="0.5"/>
<line x1="673.57" y1="116.58" x2="676.77" y2="116.58" stroke="#111" stroke-width="0.5"/>
<line x1="673.57" y1="132.42" x2="676.77" y2="132.42" stroke="#111" stroke-width="0.5"/>
<line x1="680.30" y1="107.15" x2="680.30" y2="120.65" stroke="#111" stroke-width="0.5"/>
<line x1="678.70" y1="107.15" x2="681.90" y2="107.15" stroke="#111" stroke-width="0.5"/>
<line x1="678.70" y1="120.65" x2="681.90" y2="120.65" stroke="#111" stroke-width="0.5"/>
<line x1="685.42" y1="98.78" x2="685.42" y2="110.22" stroke="#111" stroke-width="0.5"/>
<line x1="683.82" y1="98.78" x2="687.02" y2="98.78" stroke="#111" stroke-width="0.5"/>
<line x1="683.82" y1="110.22" x2="687.02" y2="110.22" stroke="#111" stroke-width="0.5"/>
<line x1="690.55" y1="88.90" x2="690.55" y2="97.90" stroke="#111" stroke-width="0.5"/>
<line x1="688.95" y1="88.90" x2="692.15" y2="88.90" stroke="#111" stroke-width="0.5"/>
<line x1="688.95" y1="97.90" x2="692.15" y2="97.90" stroke="#111" stroke-width="0.5"/>
<line x1="695.67" y1="81.42" x2="695.67" y2="88.58" stroke="#111" stroke-width="0.5"/>
<line x1="694.07" y1="81.42" x2="697.27" y2="81.42" stroke="#111" stroke-width="0.5"/>
<line x1="694.07" y1="88.58" x2="697.27" y2="88.58" stroke="#111" stroke-width="0.5"/>
<line x1="700.80" y1="74.39" x2="700.80" y2="79.81" stroke="#111" stroke-width="0.5"/>
<line x1="699.20" y1="74.39" x2="702.40" y2="74.39" stroke="#111" stroke-width="0.5"/>
<line x1="699.20" y1="79.81" x2="702.40" y2="79.81" stroke="#111" stroke-width="0.5"/>
<circle cx="598.30" cy="55.15" r="2.5" fill="#fff" stroke="#111" stroke-width="0.75"/>
<circle cx="603.42" cy="55.15" r="2.5" fill="#fff" stroke="#111" stroke-width="0.75"/>
<circle cx="608.55" cy="55.15" r="2.5" fill="#fff" stroke="#111" stroke-width="0.75"/>
<circle cx="613.67" cy="55.15" r="2.5" fill="#fff" stroke="#111" stroke-width="0.75"/>
<circle cx="618.80" cy="55.15" r="2.5" fill="#fff" stroke="#111" stroke-width="0.75"/>
<circle cx="623.92" cy="55.15" r="2.5" fill="#fff" stroke="#111" stroke-width="0.75"/>
<circle cx="629.05" cy="55.15" r="2.5" fill="#fff" stroke="#111" stroke-width="0.75"/>
<circle cx="634.17" cy="55.15" r="2.5" fill="#fff" stroke="#111" stroke-width="0.75"/>
<circle cx="639.30" cy="57.40" r="2.5" fill="#fff" stroke="#111" stroke-width="0.75"/>
<circle cx="644.42" cy="64.00" r="2.5" fill="#fff" stroke="#111" stroke-width="0.75"/>
<circle cx="649.55" cy="80.20" r="2.5" fill="#fff" stroke="#111" stroke-width="0.75"/>
<circle cx="654.67" cy="101.80" r="2.5" fill="#fff" stroke="#111" stroke-width="0.75"/>
<circle cx="659.80" cy="120.60" r="2.5" fill="#fff" stroke="#111" stroke-width="0.75"/>
<circle cx="664.92" cy="131.50" r="2.5" fill="#fff" stroke="#111" stroke-width="0.75"/>
<circle cx="670.05" cy="131.90" r="2.5" fill="#fff" stroke="#111" stroke-width="0.75"/>
<circle cx="675.17" cy="124.50" r="2.5" fill="#fff" stroke="#111" stroke-width="0.75"/>
<circle cx="680.30" cy="113.90" r="2.5" fill="#fff" stroke="#111" stroke-width="0.75"/>
<circle cx="685.42" cy="104.50" r="2.5" fill="#fff" stroke="#111" stroke-width="0.75"/>
<circle cx="690.55" cy="93.40" r="2.5" fill="#fff" stroke="#111" stroke-width="0.75"/>
<circle cx="695.67" cy="85.00" r="2.5" fill="#fff" stroke="#111" stroke-width="0.75"/>
<circle cx="700.80" cy="77.10" r="2.5" fill="#fff" stroke="#111" stroke-width="0.75"/>
<circle cx="705.92" cy="69.20" r="2.5" fill="#fff" stroke="#111" stroke-width="0.75"/>
<circle cx="711.05" cy="63.50" r="2.5" fill="#fff" stroke="#111" stroke-width="0.75"/>
<circle cx="716.17" cy="58.70" r="2.5" fill="#fff" stroke="#111" stroke-width="0.75"/>
<circle cx="721.30" cy="52.20" r="2.5" fill="#fff" stroke="#111" stroke-width="0.75"/>
<line x1="598.30" y1="52.85" x2="598.30" y2="57.45" stroke="#111" stroke-width="0.45"/>
<line x1="597.00" y1="54.70" x2="599.60" y2="54.70" stroke="#111" stroke-width="0.45"/>
<line x1="597.00" y1="55.60" x2="599.60" y2="55.60" stroke="#111" stroke-width="0.45"/>
<line x1="603.42" y1="52.85" x2="603.42" y2="57.45" stroke="#111" stroke-width="0.45"/>
<line x1="602.12" y1="54.70" x2="604.72" y2="54.70" stroke="#111" stroke-width="0.45"/>
<line x1="602.12" y1="55.60" x2="604.72" y2="55.60" stroke="#111" stroke-width="0.45"/>
<line x1="608.55" y1="52.85" x2="608.55" y2="57.45" stroke="#111" stroke-width="0.45"/>
<line x1="607.25" y1="54.70" x2="609.85" y2="54.70" stroke="#111" stroke-width="0.45"/>
<line x1="607.25" y1="55.60" x2="609.85" y2="55.60" stroke="#111" stroke-width="0.45"/>
<line x1="613.67" y1="52.85" x2="613.67" y2="57.45" stroke="#111" stroke-width="0.45"/>
<line x1="612.38" y1="54.70" x2="614.97" y2="54.70" stroke="#111" stroke-width="0.45"/>
<line x1="612.38" y1="55.60" x2="614.97" y2="55.60" stroke="#111" stroke-width="0.45"/>
<line x1="618.80" y1="52.85" x2="618.80" y2="57.45" stroke="#111" stroke-width="0.45"/>
<line x1="617.50" y1="54.70" x2="620.10" y2="54.70" stroke="#111" stroke-width="0.45"/>
<line x1="617.50" y1="55.60" x2="620.10" y2="55.60" stroke="#111" stroke-width="0.45"/>
<line x1="623.92" y1="52.85" x2="623.92" y2="57.45" stroke="#111" stroke-width="0.45"/>
<line x1="622.62" y1="54.70" x2="625.22" y2="54.70" stroke="#111" stroke-width="0.45"/>
<line x1="622.62" y1="55.60" x2="625.22" y2="55.60" stroke="#111" stroke-width="0.45"/>
<line x1="629.05" y1="52.85" x2="629.05" y2="57.45" stroke="#111" stroke-width="0.45"/>
<line x1="627.75" y1="54.70" x2="630.35" y2="54.70" stroke="#111" stroke-width="0.45"/>
<line x1="627.75" y1="55.60" x2="630.35" y2="55.60" stroke="#111" stroke-width="0.45"/>
<line x1="634.17" y1="52.85" x2="634.17" y2="57.45" stroke="#111" stroke-width="0.45"/>
<line x1="632.88" y1="54.70" x2="635.47" y2="54.70" stroke="#111" stroke-width="0.45"/>
<line x1="632.88" y1="55.60" x2="635.47" y2="55.60" stroke="#111" stroke-width="0.45"/>
<line x1="639.30" y1="55.10" x2="639.30" y2="59.70" stroke="#111" stroke-width="0.45"/>
<line x1="638.00" y1="56.95" x2="640.60" y2="56.95" stroke="#111" stroke-width="0.45"/>
<line x1="638.00" y1="57.85" x2="640.60" y2="57.85" stroke="#111" stroke-width="0.45"/>
<line x1="721.30" y1="49.90" x2="721.30" y2="54.50" stroke="#111" stroke-width="0.45"/>
<line x1="720.00" y1="51.75" x2="722.60" y2="51.75" stroke="#111" stroke-width="0.45"/>
<line x1="720.00" y1="52.65" x2="722.60" y2="52.65" stroke="#111" stroke-width="0.45"/>
<circle cx="671.50" cy="149.60" r="2.7" fill="#000" stroke="#000" stroke-width="0.6"/>
<circle cx="671.50" cy="161.30" r="2.65" fill="#fff" stroke="#111" stroke-width="0.8"/>
<text x="677.70" y="152.90" font-size="10.5">GTP-γS (–pp)</text>
<text x="677.70" y="164.70" font-size="10.5">GTP-γS (+pp)</text>
</g>
<g class="panel-e">
<text x="753.20" y="20.30" font-size="22" font-weight="bold" fill="#000">e</text>
<text x="809.80" y="31.60" font-size="11.2">e37a</text>
<text x="957.30" y="35.20" font-size="11.2" text-anchor="middle">DAMGO</text>
<line x1="894.80" y1="39.50" x2="1017.00" y2="39.50" stroke="#111" stroke-width="1.0"/>
<text x="1022.50" y="59.90" font-size="11.2">PTX</text>
<text x="1002.80" y="132.10" font-size="11.2">Con</text>
<line x1="805.20" y1="37.80" x2="805.20" y2="142.40" stroke="#111" stroke-width="1.2"/>
<line x1="800.80" y1="141.90" x2="805.20" y2="141.90" stroke="#111" stroke-width="1.1"/>
<text x="797.80" y="146.20" font-size="11.2" text-anchor="end">0</text>
<line x1="802.30" y1="133.27" x2="805.20" y2="133.27" stroke="#111" stroke-width="1.1"/>
<line x1="800.80" y1="124.63" x2="805.20" y2="124.63" stroke="#111" stroke-width="1.1"/>
<text x="797.80" y="128.93" font-size="11.2" text-anchor="end">20</text>
<line x1="802.30" y1="116.00" x2="805.20" y2="116.00" stroke="#111" stroke-width="1.1"/>
<line x1="800.80" y1="107.37" x2="805.20" y2="107.37" stroke="#111" stroke-width="1.1"/>
<text x="797.80" y="111.67" font-size="11.2" text-anchor="end">40</text>
<line x1="802.30" y1="98.73" x2="805.20" y2="98.73" stroke="#111" stroke-width="1.1"/>
<line x1="800.80" y1="90.10" x2="805.20" y2="90.10" stroke="#111" stroke-width="1.1"/>
<text x="797.80" y="94.40" font-size="11.2" text-anchor="end">60</text>
<line x1="802.30" y1="81.47" x2="805.20" y2="81.47" stroke="#111" stroke-width="1.1"/>
<line x1="800.80" y1="72.83" x2="805.20" y2="72.83" stroke="#111" stroke-width="1.1"/>
<text x="797.80" y="77.13" font-size="11.2" text-anchor="end">80</text>
<line x1="802.30" y1="64.20" x2="805.20" y2="64.20" stroke="#111" stroke-width="1.1"/>
<line x1="800.80" y1="55.57" x2="805.20" y2="55.57" stroke="#111" stroke-width="1.1"/>
<text x="797.80" y="59.87" font-size="11.2" text-anchor="end">100</text>
<line x1="802.30" y1="46.93" x2="805.20" y2="46.93" stroke="#111" stroke-width="1.1"/>
<line x1="800.80" y1="38.30" x2="805.20" y2="38.30" stroke="#111" stroke-width="1.1"/>
<text x="797.80" y="42.60" font-size="11.2" text-anchor="end">120</text>
<line x1="811.00" y1="141.90" x2="1018.80" y2="141.90" stroke="#111" stroke-width="1.2"/>
<line x1="819.00" y1="141.90" x2="819.00" y2="146.40" stroke="#111" stroke-width="1.0"/>
<text x="819.30" y="158.60" font-size="11.2" text-anchor="middle">0</text>
<line x1="858.85" y1="141.90" x2="858.85" y2="144.90" stroke="#111" stroke-width="1.0"/>
<line x1="898.70" y1="141.90" x2="898.70" y2="146.40" stroke="#111" stroke-width="1.0"/>
<text x="899.00" y="158.60" font-size="11.2" text-anchor="middle">100</text>
<line x1="938.55" y1="141.90" x2="938.55" y2="144.90" stroke="#111" stroke-width="1.0"/>
<line x1="978.40" y1="141.90" x2="978.40" y2="146.40" stroke="#111" stroke-width="1.0"/>
<text x="978.70" y="158.60" font-size="11.2" text-anchor="middle">200</text>
<line x1="1018.25" y1="141.90" x2="1018.25" y2="144.90" stroke="#111" stroke-width="1.0"/>
<text x="914.50" y="171.80" font-size="11.2" text-anchor="middle">Time (s)</text>
<text transform="translate(769.9 137.2) rotate(-90)" font-size="11.2">Percentage of <tspan font-style="italic">I</tspan><tspan dy="3" font-size="8.6" letter-spacing="0.3">max</tspan></text>
<circle cx="818.80" cy="69.20" r="2.65" fill="#2f9e48"/>
<circle cx="823.60" cy="64.70" r="2.65" fill="#2f9e48"/>
<circle cx="828.40" cy="66.30" r="2.65" fill="#2f9e48"/>
<circle cx="833.20" cy="63.90" r="2.65" fill="#2f9e48"/>
<circle cx="838.00" cy="63.20" r="2.65" fill="#2f9e48"/>
<circle cx="844.40" cy="64.40" r="2.65" fill="#2f9e48"/>
<circle cx="849.20" cy="63.60" r="2.65" fill="#2f9e48"/>
<circle cx="853.90" cy="65.50" r="2.65" fill="#2f9e48"/>
<circle cx="858.70" cy="64.70" r="2.65" fill="#2f9e48"/>
<circle cx="863.50" cy="67.40" r="2.65" fill="#2f9e48"/>
<circle cx="868.30" cy="66.80" r="2.65" fill="#2f9e48"/>
<circle cx="873.10" cy="65.20" r="2.65" fill="#2f9e48"/>
<circle cx="877.90" cy="65.00" r="2.65" fill="#2f9e48"/>
<circle cx="882.70" cy="63.60" r="2.65" fill="#2f9e48"/>
<circle cx="887.40" cy="63.90" r="2.65" fill="#2f9e48"/>
<circle cx="892.20" cy="63.90" r="2.65" fill="#2f9e48"/>
<circle cx="896.90" cy="64.30" r="2.65" fill="#2f9e48"/>
<circle cx="901.70" cy="62.80" r="2.65" fill="#2f9e48"/>
<circle cx="906.50" cy="62.80" r="2.65" fill="#2f9e48"/>
<circle cx="911.40" cy="64.10" r="2.65" fill="#2f9e48"/>
<circle cx="916.20" cy="63.00" r="2.65" fill="#2f9e48"/>
<circle cx="921.00" cy="63.00" r="2.65" fill="#2f9e48"/>
<circle cx="925.80" cy="62.30" r="2.65" fill="#2f9e48"/>
<circle cx="931.90" cy="62.80" r="2.65" fill="#2f9e48"/>
<circle cx="936.70" cy="61.80" r="2.65" fill="#2f9e48"/>
<circle cx="941.50" cy="63.00" r="2.65" fill="#2f9e48"/>
<circle cx="946.30" cy="61.30" r="2.65" fill="#2f9e48"/>
<circle cx="951.10" cy="61.10" r="2.65" fill="#2f9e48"/>
<circle cx="955.90" cy="61.80" r="2.65" fill="#2f9e48"/>
<circle cx="960.70" cy="58.90" r="2.65" fill="#2f9e48"/>
<circle cx="965.40" cy="59.90" r="2.65" fill="#2f9e48"/>
<circle cx="970.20" cy="59.90" r="2.65" fill="#2f9e48"/>
<circle cx="975.00" cy="59.90" r="2.65" fill="#2f9e48"/>
<circle cx="979.80" cy="59.90" r="2.65" fill="#2f9e48"/>
<circle cx="984.60" cy="59.40" r="2.65" fill="#2f9e48"/>
<circle cx="989.40" cy="59.90" r="2.65" fill="#2f9e48"/>
<circle cx="995.40" cy="57.50" r="2.65" fill="#2f9e48"/>
<circle cx="1000.20" cy="57.50" r="2.65" fill="#2f9e48"/>
<circle cx="1005.40" cy="56.30" r="2.65" fill="#2f9e48"/>
<circle cx="1010.20" cy="55.80" r="2.65" fill="#2f9e48"/>
<circle cx="1015.00" cy="55.80" r="2.65" fill="#2f9e48"/>
<polyline fill="none" stroke="#000" stroke-width="1" points="818.8,68.4 823.6,66.3 828.4,63.9 833.2,61.2 838.0,64.4 844.4,63.1 849.2,62.3 853.9,63.1 858.7,55.6 863.5,56.0 868.3,58.8 873.1,57.6 877.9,59.9 882.7,58.8 887.4,63.9 892.2,59.9 896.9,106.9 901.7,122.8 906.5,120.6 911.3,126.3 916.0,123.8 920.8,127.0 925.6,125.4 932.0,130.2 936.8,129.5 941.6,130.2 946.3,131.8 951.1,134.0 955.9,132.4 960.7,130.8 965.5,125.4 970.3,120.0 975.0,123.8 979.8,125.4 984.6,129.5 989.4,131.5 995.8,131.5"/>
<circle cx="818.80" cy="68.40" r="2.6" fill="#000"/>
<circle cx="823.60" cy="66.30" r="2.6" fill="#000"/>
<circle cx="828.40" cy="63.90" r="2.6" fill="#000"/>
<circle cx="833.20" cy="61.20" r="2.6" fill="#000"/>
<circle cx="838.00" cy="64.40" r="2.6" fill="#000"/>
<circle cx="844.40" cy="63.10" r="2.6" fill="#000"/>
<circle cx="849.20" cy="62.30" r="2.6" fill="#000"/>
<circle cx="853.90" cy="63.10" r="2.6" fill="#000"/>
<circle cx="858.70" cy="55.60" r="2.6" fill="#000"/>
<circle cx="863.50" cy="56.00" r="2.6" fill="#000"/>
<circle cx="868.30" cy="58.80" r="2.6" fill="#000"/>
<circle cx="873.10" cy="57.60" r="2.6" fill="#000"/>
<circle cx="877.90" cy="59.90" r="2.6" fill="#000"/>
<circle cx="882.70" cy="58.80" r="2.6" fill="#000"/>
<circle cx="887.40" cy="63.90" r="2.6" fill="#000"/>
<circle cx="892.20" cy="59.90" r="2.6" fill="#000"/>
<circle cx="896.90" cy="106.90" r="2.6" fill="#000"/>
<circle cx="901.70" cy="122.80" r="2.6" fill="#000"/>
<circle cx="906.50" cy="120.60" r="2.6" fill="#000"/>
<circle cx="911.30" cy="126.30" r="2.6" fill="#000"/>
<circle cx="916.00" cy="123.80" r="2.6" fill="#000"/>
<circle cx="920.80" cy="127.00" r="2.6" fill="#000"/>
<circle cx="925.60" cy="125.40" r="2.6" fill="#000"/>
<circle cx="932.00" cy="130.20" r="2.6" fill="#000"/>
<circle cx="936.80" cy="129.50" r="2.6" fill="#000"/>
<circle cx="941.60" cy="130.20" r="2.6" fill="#000"/>
<circle cx="946.30" cy="131.80" r="2.6" fill="#000"/>
<circle cx="951.10" cy="134.00" r="2.6" fill="#000"/>
<circle cx="955.90" cy="132.40" r="2.6" fill="#000"/>
<circle cx="960.70" cy="130.80" r="2.6" fill="#000"/>
<circle cx="965.50" cy="125.40" r="2.6" fill="#000"/>
<circle cx="970.30" cy="120.00" r="2.6" fill="#000"/>
<circle cx="975.00" cy="123.80" r="2.6" fill="#000"/>
<circle cx="979.80" cy="125.40" r="2.6" fill="#000"/>
<circle cx="984.60" cy="129.50" r="2.6" fill="#000"/>
<circle cx="989.40" cy="131.50" r="2.6" fill="#000"/>
<circle cx="995.80" cy="131.50" r="2.6" fill="#000"/>
</g>
<g class="panel-f">
<text x="862.90" y="209.60" font-size="22" font-weight="bold" fill="#000">f</text>
<text x="914.60" y="206.30" font-size="11.2">e37a</text>
<text x="978.00" y="206.30" font-size="11.2">e37a + PTX</text>
<rect x="909.60" y="312.40" width="27.80" height="28.70" fill="#000" stroke="#000" stroke-width="1"/>
<rect x="944.60" y="279.90" width="27.40" height="61.20" fill="#fff" stroke="#000" stroke-width="1"/>
<rect x="979.00" y="238.30" width="27.50" height="102.80" fill="#2f9e48" stroke="#000" stroke-width="1"/>
<rect x="1013.70" y="224.70" width="27.90" height="116.40" fill="#fff" stroke="#000" stroke-width="1"/>
<line x1="908.80" y1="234.30" x2="1044.80" y2="234.30" stroke="#111" stroke-width="1.15" stroke-dasharray="1.25 1.875"/>
<line x1="922.90" y1="307.60" x2="922.90" y2="312.30" stroke="#111" stroke-width="0.9"/>
<line x1="921.30" y1="307.60" x2="924.50" y2="307.60" stroke="#111" stroke-width="0.9"/>
<line x1="958.30" y1="270.20" x2="958.30" y2="288.90" stroke="#111" stroke-width="1.1"/>
<line x1="956.60" y1="270.20" x2="960.00" y2="270.20" stroke="#111" stroke-width="1.0"/>
<line x1="956.60" y1="288.90" x2="960.00" y2="288.90" stroke="#111" stroke-width="1.0"/>
<line x1="992.70" y1="230.00" x2="992.70" y2="246.20" stroke="#111" stroke-width="1.1"/>
<line x1="991.00" y1="230.00" x2="994.40" y2="230.00" stroke="#111" stroke-width="1.0"/>
<line x1="991.00" y1="246.20" x2="994.40" y2="246.20" stroke="#111" stroke-width="1.0"/>
<line x1="1027.40" y1="216.80" x2="1027.40" y2="232.30" stroke="#111" stroke-width="1.1"/>
<line x1="1025.70" y1="216.80" x2="1029.10" y2="216.80" stroke="#111" stroke-width="1.0"/>
<line x1="1025.70" y1="232.30" x2="1029.10" y2="232.30" stroke="#111" stroke-width="1.0"/>
<polyline fill="none" stroke="#222" stroke-width="0.7" points="922.9,304.8 922.9,253.2 958.2,253.2 958.2,261.2"/>
<text x="941.30" y="251.60" font-size="17.5" text-anchor="middle">*</text>
<line x1="905.90" y1="213.20" x2="905.90" y2="341.60" stroke="#111" stroke-width="1.2"/>
<line x1="902.20" y1="341.10" x2="1044.60" y2="341.10" stroke="#111" stroke-width="1.2"/>
<line x1="902.20" y1="287.80" x2="905.90" y2="287.80" stroke="#111" stroke-width="1.1"/>
<line x1="902.20" y1="234.30" x2="905.90" y2="234.30" stroke="#111" stroke-width="1.1"/>
<text x="898.20" y="344.70" font-size="11.2" text-anchor="end">0</text>
<text x="898.20" y="291.70" font-size="11.2" text-anchor="end">50</text>
<text x="898.20" y="238.10" font-size="11.2" text-anchor="end">100</text>
<text transform="translate(873.3 335.6) rotate(-90)" font-size="11.2">Percentage of control</text>
<text x="923.50" y="353.80" font-size="11.2" text-anchor="middle">–pp</text>
<text x="957.20" y="353.80" font-size="11.2" text-anchor="middle">+pp</text>
<text x="991.00" y="353.80" font-size="11.2" text-anchor="middle">–pp</text>
<text x="1027.20" y="353.80" font-size="11.2" text-anchor="middle">+pp</text>
<line x1="909.20" y1="359.40" x2="968.50" y2="359.40" stroke="#111" stroke-width="1.0"/>
<line x1="979.80" y1="359.40" x2="1039.00" y2="359.40" stroke="#111" stroke-width="1.0"/>
<text x="940.50" y="371.60" font-size="11.2" text-anchor="middle">DAMGO</text>
<text x="1008.20" y="371.60" font-size="11.2" text-anchor="middle">DAMGO</text>
</g>
</svg></body></html>
